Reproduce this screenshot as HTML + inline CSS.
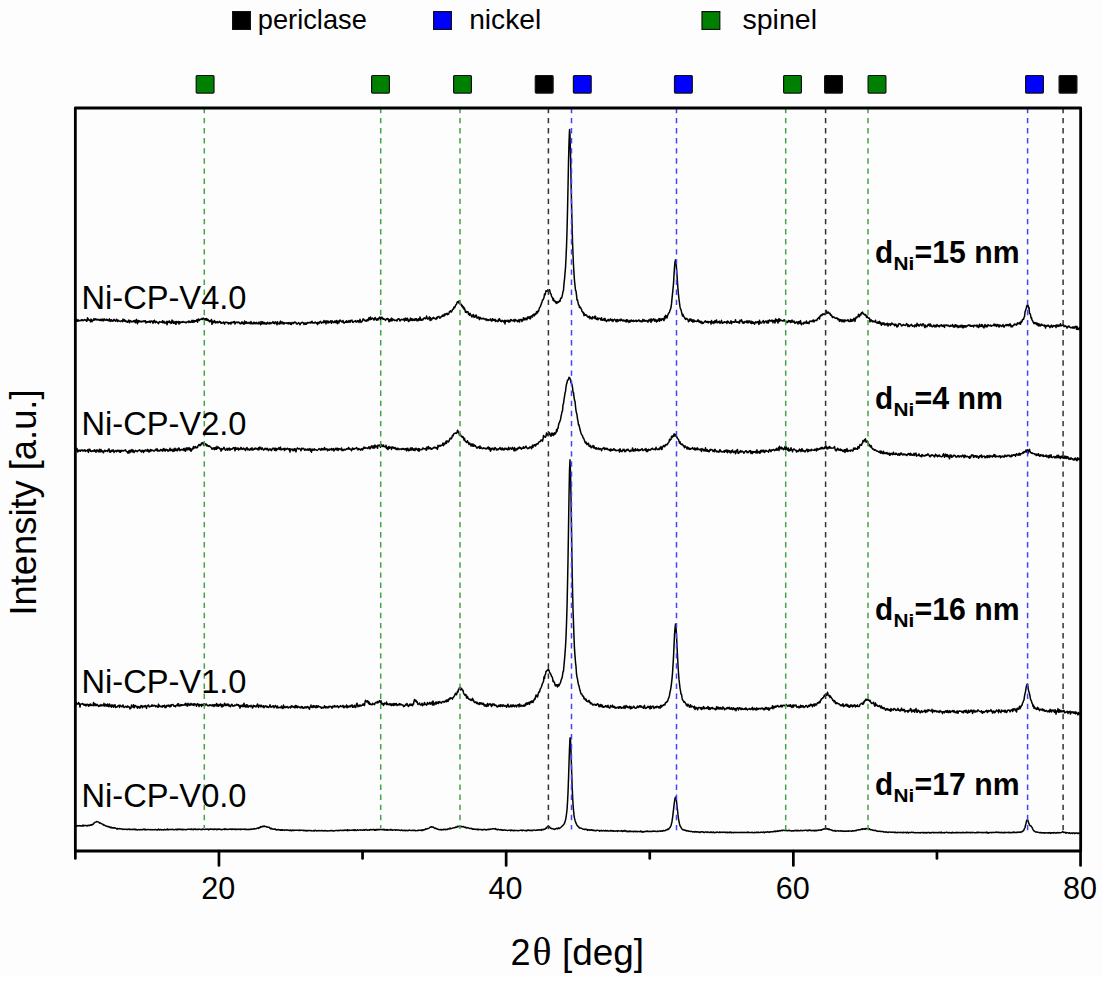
<!DOCTYPE html>
<html><head><meta charset="utf-8"><title>XRD patterns</title>
<style>html,body{margin:0;padding:0;background:#fff;width:1103px;height:981px;overflow:hidden}svg{display:block}</style>
</head><body>
<svg width="1103" height="981" viewBox="0 0 1103 981">
<rect width="1103" height="981" fill="#fff"/><rect width="1103" height="976" fill="#fdfdfd"/>
<polyline points="75.50,320.78 76.00,321.17 76.50,320.74 77.00,319.34 77.50,321.20 78.00,320.80 78.50,319.95 79.00,320.88 79.50,320.68 80.00,320.61 80.50,320.37 81.00,320.80 81.50,319.69 82.00,320.17 82.50,319.88 83.00,320.79 83.50,320.30 84.00,320.00 84.50,319.57 85.00,320.00 85.50,320.21 86.00,319.96 86.50,321.28 87.00,321.02 87.50,317.85 88.00,318.53 88.50,319.97 89.00,319.75 89.50,320.28 90.00,320.27 90.50,321.87 91.00,319.11 91.50,319.72 92.00,321.76 92.50,320.56 93.00,320.56 93.50,319.55 94.00,318.57 94.50,320.10 95.00,320.03 95.50,318.88 96.00,319.33 96.50,319.84 97.00,319.08 97.50,319.79 98.00,319.94 98.50,319.87 99.00,319.40 99.50,320.32 100.00,320.56 100.50,320.10 101.00,319.15 101.50,320.50 102.00,319.47 102.50,320.67 103.00,319.04 103.50,320.75 104.00,319.98 104.50,318.96 105.00,319.78 105.50,320.12 106.00,320.33 106.50,319.29 107.00,319.21 107.50,320.35 108.00,319.80 108.50,320.43 109.00,320.90 109.50,318.88 110.00,320.52 110.50,321.37 111.00,320.10 111.50,319.69 112.00,321.04 112.50,320.64 113.00,321.21 113.50,320.18 114.00,319.24 114.50,320.43 115.00,320.17 115.50,321.24 116.00,320.77 116.50,319.24 117.00,319.64 117.50,321.43 118.00,321.28 118.50,320.18 119.00,320.75 119.50,321.16 120.00,321.20 120.50,321.57 121.00,321.07 121.50,320.80 122.00,320.68 122.50,321.82 123.00,319.04 123.50,320.86 124.00,321.03 124.50,319.81 125.00,321.33 125.50,320.52 126.00,321.83 126.50,321.02 127.00,321.72 127.50,322.21 128.00,321.53 128.50,320.48 129.00,319.96 129.50,322.77 130.00,321.21 130.50,320.73 131.00,321.45 131.50,321.18 132.00,322.08 132.50,321.40 133.00,321.40 133.50,320.79 134.00,321.81 134.50,320.55 135.00,322.01 135.50,322.75 136.00,320.17 136.50,319.38 137.00,322.02 137.50,323.67 138.00,320.67 138.50,320.47 139.00,322.05 139.50,320.85 140.00,321.15 140.50,321.29 141.00,322.06 141.50,321.27 142.00,321.87 142.50,321.50 143.00,320.94 143.50,321.40 144.00,320.88 144.50,321.71 145.00,320.76 145.50,320.80 146.00,322.98 146.50,321.71 147.00,321.72 147.50,322.22 148.00,321.44 148.50,321.61 149.00,322.18 149.50,322.08 150.00,320.86 150.50,322.57 151.00,321.37 151.50,320.99 152.00,321.14 152.50,321.58 153.00,323.31 153.50,320.94 154.00,322.09 154.50,320.15 155.00,321.98 155.50,322.76 156.00,321.81 156.50,321.48 157.00,322.23 157.50,322.64 158.00,322.62 158.50,323.75 159.00,322.26 159.50,321.59 160.00,322.00 160.50,322.06 161.00,322.23 161.50,322.12 162.00,322.31 162.50,320.75 163.00,322.89 163.50,321.71 164.00,321.21 164.50,322.76 165.00,323.35 165.50,322.66 166.00,322.39 166.50,321.47 167.00,324.72 167.50,323.04 168.00,321.33 168.50,321.65 169.00,322.39 169.50,321.01 170.00,322.49 170.50,321.96 171.00,323.40 171.50,323.19 172.00,320.08 172.50,322.43 173.00,321.03 173.50,323.35 174.00,322.56 174.50,322.89 175.00,321.53 175.50,324.00 176.00,324.17 176.50,321.56 177.00,322.78 177.50,321.90 178.00,322.46 178.50,321.41 179.00,324.08 179.50,321.67 180.00,322.25 180.50,322.92 181.00,321.93 181.50,322.27 182.00,321.98 182.50,322.34 183.00,321.44 183.50,322.05 184.00,322.23 184.50,322.11 185.00,322.43 185.50,322.11 186.00,322.98 186.50,322.04 187.00,322.18 187.50,321.70 188.00,321.79 188.50,321.13 189.00,322.62 189.50,321.17 190.00,321.46 190.50,322.36 191.00,322.35 191.50,321.61 192.00,320.18 192.50,322.19 193.00,321.98 193.50,320.48 194.00,322.24 194.50,320.90 195.00,320.43 195.50,321.35 196.00,320.98 196.50,321.16 197.00,319.47 197.50,322.20 198.00,319.97 198.50,318.97 199.00,320.60 199.50,319.56 200.00,319.92 200.50,319.15 201.00,319.20 201.50,319.30 202.00,318.33 202.50,319.46 203.00,318.46 203.50,318.15 204.00,319.04 204.50,319.48 205.00,319.08 205.50,318.73 206.00,320.20 206.50,318.40 207.00,319.23 207.50,320.35 208.00,319.37 208.50,320.74 209.00,320.84 209.50,321.81 210.00,320.42 210.50,320.80 211.00,321.74 211.50,319.48 212.00,324.31 212.50,321.17 213.00,321.23 213.50,322.66 214.00,321.96 214.50,320.54 215.00,322.65 215.50,322.90 216.00,321.83 216.50,322.02 217.00,322.72 217.50,321.57 218.00,322.75 218.50,322.58 219.00,321.87 219.50,321.28 220.00,322.30 220.50,321.77 221.00,323.39 221.50,322.69 222.00,323.25 222.50,322.72 223.00,322.84 223.50,321.97 224.00,323.22 224.50,324.18 225.00,322.42 225.50,322.19 226.00,322.57 226.50,322.31 227.00,322.14 227.50,322.86 228.00,322.51 228.50,323.99 229.00,322.77 229.50,323.06 230.00,323.60 230.50,322.55 231.00,324.03 231.50,322.28 232.00,322.14 232.50,322.52 233.00,322.74 233.50,321.66 234.00,322.82 234.50,321.44 235.00,324.05 235.50,322.80 236.00,322.33 236.50,322.11 237.00,322.56 237.50,322.71 238.00,322.01 238.50,322.12 239.00,322.75 239.50,322.47 240.00,323.72 240.50,323.89 241.00,322.94 241.50,323.34 242.00,321.80 242.50,323.49 243.00,322.92 243.50,323.36 244.00,324.32 244.50,321.02 245.00,323.19 245.50,322.03 246.00,323.47 246.50,321.86 247.00,322.56 247.50,323.15 248.00,323.51 248.50,323.05 249.00,322.32 249.50,322.53 250.00,323.75 250.50,323.00 251.00,321.57 251.50,323.72 252.00,323.36 252.50,323.75 253.00,322.72 253.50,323.71 254.00,322.11 254.50,323.49 255.00,322.59 255.50,323.58 256.00,323.87 256.50,322.39 257.00,322.97 257.50,323.05 258.00,324.03 258.50,323.62 259.00,321.98 259.50,323.40 260.00,323.65 260.50,324.82 261.00,321.59 261.50,322.56 262.00,324.15 262.50,321.87 263.00,322.00 263.50,323.46 264.00,323.89 264.50,322.45 265.00,323.48 265.50,323.12 266.00,324.31 266.50,323.02 267.00,323.86 267.50,322.25 268.00,322.86 268.50,322.94 269.00,323.99 269.50,323.52 270.00,322.38 270.50,323.60 271.00,323.68 271.50,322.93 272.00,322.80 272.50,322.86 273.00,321.58 273.50,323.18 274.00,323.22 274.50,322.29 275.00,323.65 275.50,321.86 276.00,322.55 276.50,322.62 277.00,324.71 277.50,321.66 278.00,323.50 278.50,323.82 279.00,323.34 279.50,324.03 280.00,322.17 280.50,321.08 281.00,323.67 281.50,322.00 282.00,322.74 282.50,322.02 283.00,323.91 283.50,323.76 284.00,322.41 284.50,323.79 285.00,323.12 285.50,322.90 286.00,323.07 286.50,322.85 287.00,323.54 287.50,323.28 288.00,322.72 288.50,323.87 289.00,322.50 289.50,323.26 290.00,323.37 290.50,324.27 291.00,322.58 291.50,324.49 292.00,323.16 292.50,322.85 293.00,322.44 293.50,323.51 294.00,323.05 294.50,322.07 295.00,322.05 295.50,322.54 296.00,322.43 296.50,323.93 297.00,324.17 297.50,323.74 298.00,323.31 298.50,322.64 299.00,323.05 299.50,323.75 300.00,324.81 300.50,323.76 301.00,322.73 301.50,322.98 302.00,322.53 302.50,322.26 303.00,322.75 303.50,323.06 304.00,324.43 304.50,322.90 305.00,323.99 305.50,324.33 306.00,322.88 306.50,324.16 307.00,323.38 307.50,322.41 308.00,322.97 308.50,322.75 309.00,322.51 309.50,322.53 310.00,322.80 310.50,323.03 311.00,321.89 311.50,322.62 312.00,321.32 312.50,322.82 313.00,323.11 313.50,322.70 314.00,322.79 314.50,323.03 315.00,321.95 315.50,322.29 316.00,322.91 316.50,323.32 317.00,322.78 317.50,324.60 318.00,322.34 318.50,323.25 319.00,323.46 319.50,322.25 320.00,321.65 320.50,321.32 321.00,322.45 321.50,323.24 322.00,322.51 322.50,322.41 323.00,321.92 323.50,322.70 324.00,320.39 324.50,322.39 325.00,322.19 325.50,320.99 326.00,323.98 326.50,320.94 327.00,321.18 327.50,321.06 328.00,323.01 328.50,321.29 329.00,322.60 329.50,322.51 330.00,322.21 330.50,320.86 331.00,321.43 331.50,323.36 332.00,320.82 332.50,321.19 333.00,321.74 333.50,322.55 334.00,322.05 334.50,322.45 335.00,320.89 335.50,322.59 336.00,322.26 336.50,320.42 337.00,323.07 337.50,323.70 338.00,321.09 338.50,321.78 339.00,322.91 339.50,320.45 340.00,320.01 340.50,320.59 341.00,321.19 341.50,321.17 342.00,322.17 342.50,321.87 343.00,320.57 343.50,322.10 344.00,323.20 344.50,322.61 345.00,322.42 345.50,321.58 346.00,322.39 346.50,320.71 347.00,322.16 347.50,321.43 348.00,322.45 348.50,321.87 349.00,320.53 349.50,321.55 350.00,322.46 350.50,320.45 351.00,320.92 351.50,320.72 352.00,320.08 352.50,322.15 353.00,322.43 353.50,321.97 354.00,321.48 354.50,321.20 355.00,321.43 355.50,320.58 356.00,321.93 356.50,322.04 357.00,321.91 357.50,320.64 358.00,321.13 358.50,320.89 359.00,322.52 359.50,321.12 360.00,319.34 360.50,321.24 361.00,322.46 361.50,321.40 362.00,321.53 362.50,320.77 363.00,319.02 363.50,319.11 364.00,319.54 364.50,320.44 365.00,320.76 365.50,321.02 366.00,320.09 366.50,321.13 367.00,320.01 367.50,319.58 368.00,320.83 368.50,319.26 369.00,317.64 369.50,318.98 370.00,319.87 370.50,317.09 371.00,319.31 371.50,319.24 372.00,318.22 372.50,318.08 373.00,318.85 373.50,318.68 374.00,320.12 374.50,319.27 375.00,317.52 375.50,318.04 376.00,319.29 376.50,320.22 377.00,318.87 377.50,318.75 378.00,320.01 378.50,318.37 379.00,318.10 379.50,317.15 380.00,317.91 380.50,320.21 381.00,317.17 381.50,318.42 382.00,317.25 382.50,318.61 383.00,319.31 383.50,318.42 384.00,319.31 384.50,319.38 385.00,319.22 385.50,320.38 386.00,319.66 386.50,318.82 387.00,318.57 387.50,318.51 388.00,319.71 388.50,319.10 389.00,321.76 389.50,321.07 390.00,319.38 390.50,319.34 391.00,321.11 391.50,318.13 392.00,319.39 392.50,320.63 393.00,319.09 393.50,319.50 394.00,319.64 394.50,320.54 395.00,320.12 395.50,320.38 396.00,320.57 396.50,320.11 397.00,321.05 397.50,319.51 398.00,318.93 398.50,318.65 399.00,318.80 399.50,319.72 400.00,321.08 400.50,320.35 401.00,319.69 401.50,319.29 402.00,319.74 402.50,319.84 403.00,319.70 403.50,318.95 404.00,319.76 404.50,321.01 405.00,318.29 405.50,319.92 406.00,318.31 406.50,320.25 407.00,319.45 407.50,318.29 408.00,320.13 408.50,321.57 409.00,320.10 409.50,320.98 410.00,319.91 410.50,318.11 411.00,320.34 411.50,319.54 412.00,318.63 412.50,320.51 413.00,320.06 413.50,319.35 414.00,320.50 414.50,318.99 415.00,320.25 415.50,318.87 416.00,320.09 416.50,318.67 417.00,320.84 417.50,319.75 418.00,320.72 418.50,318.79 419.00,319.07 419.50,320.17 420.00,317.11 420.50,318.51 421.00,320.28 421.50,319.78 422.00,320.19 422.50,319.07 423.00,319.79 423.50,318.66 424.00,318.09 424.50,317.79 425.00,318.73 425.50,318.70 426.00,318.60 426.50,316.08 427.00,317.36 427.50,318.56 428.00,319.22 428.50,318.44 429.00,318.14 429.50,316.87 430.00,320.50 430.50,317.79 431.00,320.10 431.50,319.93 432.00,318.78 432.50,317.99 433.00,318.52 433.50,317.35 434.00,318.48 434.50,318.18 435.00,318.54 435.50,318.81 436.00,319.38 436.50,317.48 437.00,318.59 437.50,316.92 438.00,316.72 438.50,316.84 439.00,316.40 439.50,317.94 440.00,317.75 440.50,317.90 441.00,316.64 441.50,316.74 442.00,315.84 442.50,315.18 443.00,316.35 443.50,316.00 444.00,314.63 444.50,315.85 445.00,313.65 445.50,314.74 446.00,314.10 446.50,313.93 447.00,313.19 447.50,314.63 448.00,314.00 448.50,314.21 449.00,312.99 449.50,311.43 450.00,311.85 450.50,310.77 451.00,311.76 451.50,311.97 452.00,310.76 452.50,309.48 453.00,309.15 453.50,309.06 454.00,307.03 454.50,307.70 455.00,306.98 455.50,305.52 456.00,304.73 456.50,304.30 457.00,302.53 457.50,301.72 458.00,302.49 458.50,301.75 458.60,302.98 459.00,300.85 459.50,300.66 460.00,303.73 460.50,304.64 461.00,304.15 461.50,304.46 462.00,306.54 462.50,305.90 463.00,307.83 463.50,306.93 464.00,309.19 464.50,308.15 465.00,310.27 465.50,312.24 466.00,311.18 466.50,312.49 467.00,311.70 467.50,311.87 468.00,311.72 468.50,314.23 469.00,313.63 469.50,315.38 470.00,313.30 470.50,314.41 471.00,314.94 471.50,316.34 472.00,316.95 472.50,315.09 473.00,314.91 473.50,314.62 474.00,317.45 474.50,316.44 475.00,316.16 475.50,316.85 476.00,314.90 476.50,315.78 477.00,318.20 477.50,317.90 478.00,317.84 478.50,317.01 479.00,318.49 479.50,319.64 480.00,317.21 480.50,318.38 481.00,318.11 481.50,318.90 482.00,318.71 482.50,318.67 483.00,318.14 483.50,318.97 484.00,318.55 484.50,319.03 485.00,319.18 485.50,319.87 486.00,318.89 486.50,319.18 487.00,320.44 487.50,319.41 488.00,319.43 488.50,320.45 489.00,320.00 489.50,319.91 490.00,320.07 490.50,318.88 491.00,320.37 491.50,321.16 492.00,320.57 492.50,318.79 493.00,320.40 493.50,319.43 494.00,320.04 494.50,320.38 495.00,319.29 495.50,321.48 496.00,320.31 496.50,321.07 497.00,320.97 497.50,321.60 498.00,321.49 498.50,319.25 499.00,320.56 499.50,318.73 500.00,320.19 500.50,321.19 501.00,321.38 501.50,321.71 502.00,320.31 502.50,320.91 503.00,320.73 503.50,321.74 504.00,322.02 504.50,320.37 505.00,323.89 505.50,320.68 506.00,320.37 506.50,321.19 507.00,321.33 507.50,321.15 508.00,320.13 508.50,321.93 509.00,320.72 509.50,321.97 510.00,321.84 510.50,319.56 511.00,319.80 511.50,319.77 512.00,320.82 512.50,320.64 513.00,320.80 513.50,319.86 514.00,320.89 514.50,321.70 515.00,319.34 515.50,320.28 516.00,320.63 516.50,320.27 517.00,320.18 517.50,321.81 518.00,321.36 518.50,320.95 519.00,319.53 519.50,322.03 520.00,320.38 520.50,319.52 521.00,319.67 521.50,319.47 522.00,321.62 522.50,319.92 523.00,319.72 523.50,317.75 524.00,320.12 524.50,318.48 525.00,318.29 525.50,319.65 526.00,318.26 526.50,319.56 527.00,319.65 527.50,317.02 528.00,318.26 528.50,316.85 529.00,317.95 529.50,318.57 530.00,316.42 530.50,318.88 531.00,316.83 531.50,315.83 532.00,316.44 532.50,316.91 533.00,314.74 533.50,315.56 534.00,314.01 534.50,315.79 535.00,314.46 535.50,313.49 536.00,314.21 536.50,311.68 537.00,311.83 537.50,313.08 538.00,310.69 538.50,311.18 539.00,309.36 539.50,307.69 540.00,307.10 540.50,306.32 541.00,304.77 541.50,303.22 542.00,301.97 542.50,300.03 543.00,299.99 543.50,298.80 544.00,297.66 544.50,294.07 545.00,294.95 545.50,293.01 546.00,290.74 546.50,291.17 547.00,291.15 547.50,290.56 547.60,290.09 548.00,290.85 548.50,291.02 549.00,290.70 549.50,289.66 550.00,291.64 550.50,293.58 551.00,293.94 551.50,296.02 552.00,297.20 552.50,297.60 553.00,300.14 553.50,298.62 554.00,301.04 554.50,300.55 555.00,300.89 555.50,302.54 556.00,301.89 556.50,303.40 557.00,301.81 557.50,302.85 558.00,301.99 558.50,302.27 559.00,301.77 559.50,300.58 560.00,301.39 560.50,298.88 561.00,297.98 561.50,298.21 562.00,296.61 562.50,294.32 563.00,291.58 563.50,290.21 564.00,283.55 564.50,279.36 565.00,273.41 565.50,267.76 566.00,257.99 566.50,246.80 567.00,231.42 567.50,211.15 568.00,187.43 568.50,162.05 569.00,142.75 569.50,130.63 569.60,129.50 570.00,134.58 570.50,153.49 571.00,178.35 571.50,202.99 572.00,222.36 572.50,241.37 573.00,254.46 573.50,265.49 574.00,273.65 574.50,280.75 575.00,285.28 575.50,290.28 576.00,290.98 576.50,295.20 577.00,300.12 577.50,299.77 578.00,302.42 578.50,304.87 579.00,304.93 579.50,307.53 580.00,306.80 580.50,307.37 581.00,308.74 581.50,309.25 582.00,311.34 582.50,311.73 583.00,312.86 583.50,312.23 584.00,315.76 584.50,313.96 585.00,314.41 585.50,315.21 586.00,314.96 586.50,314.94 587.00,315.85 587.50,316.83 588.00,316.87 588.50,317.34 589.00,316.28 589.50,316.30 590.00,318.86 590.50,317.13 591.00,317.91 591.50,318.29 592.00,319.01 592.50,316.80 593.00,317.67 593.50,317.83 594.00,318.06 594.50,316.37 595.00,318.45 595.50,316.16 596.00,318.97 596.50,319.26 597.00,319.39 597.50,317.94 598.00,319.85 598.50,318.37 599.00,318.13 599.50,318.40 600.00,318.58 600.50,319.50 601.00,320.11 601.50,317.67 602.00,319.05 602.50,320.32 603.00,319.77 603.50,320.07 604.00,318.41 604.50,320.53 605.00,318.43 605.50,319.96 606.00,320.98 606.50,321.46 607.00,320.32 607.50,320.66 608.00,319.43 608.50,319.56 609.00,320.99 609.50,320.02 610.00,319.93 610.50,318.86 611.00,320.20 611.50,320.64 612.00,319.44 612.50,319.70 613.00,321.49 613.50,320.31 614.00,319.93 614.50,319.22 615.00,319.67 615.50,320.01 616.00,321.41 616.50,319.75 617.00,321.82 617.50,319.52 618.00,320.03 618.50,321.07 619.00,320.17 619.50,319.68 620.00,320.30 620.50,320.81 621.00,318.98 621.50,320.25 622.00,320.38 622.50,320.15 623.00,321.13 623.50,320.04 624.00,320.23 624.50,320.58 625.00,321.18 625.50,320.39 626.00,321.88 626.50,319.83 627.00,321.70 627.50,319.89 628.00,320.49 628.50,320.95 629.00,322.40 629.50,321.42 630.00,320.33 630.50,321.79 631.00,320.51 631.50,320.03 632.00,321.09 632.50,320.79 633.00,321.53 633.50,320.26 634.00,321.06 634.50,321.28 635.00,320.98 635.50,320.72 636.00,320.16 636.50,321.53 637.00,320.88 637.50,321.19 638.00,320.47 638.50,320.78 639.00,319.89 639.50,320.84 640.00,321.42 640.50,320.85 641.00,321.50 641.50,321.04 642.00,321.93 642.50,320.61 643.00,319.37 643.50,321.13 644.00,320.62 644.50,319.93 645.00,321.30 645.50,320.97 646.00,321.11 646.50,320.44 647.00,320.88 647.50,320.92 648.00,322.20 648.50,320.10 649.00,320.66 649.50,320.96 650.00,319.17 650.50,319.26 651.00,322.44 651.50,319.08 652.00,321.05 652.50,319.83 653.00,319.88 653.50,318.81 654.00,319.71 654.50,321.11 655.00,319.23 655.50,320.88 656.00,320.60 656.50,322.00 657.00,319.83 657.50,321.26 658.00,320.88 658.50,319.81 659.00,318.57 659.50,321.18 660.00,318.65 660.50,319.31 661.00,320.35 661.50,320.42 662.00,318.62 662.50,319.15 663.00,318.79 663.50,319.81 664.00,320.71 664.50,316.77 665.00,318.82 665.50,315.28 666.00,317.33 666.50,315.93 667.00,318.05 667.50,315.89 668.00,314.41 668.50,313.75 669.00,312.67 669.50,312.08 670.00,310.27 670.50,309.10 671.00,307.54 671.50,303.94 672.00,298.68 672.50,293.81 673.00,288.93 673.50,283.74 674.00,275.01 674.50,267.24 675.00,262.16 675.50,259.84 676.00,261.09 676.50,268.28 677.00,275.10 677.50,282.54 678.00,289.94 678.50,294.81 679.00,299.28 679.50,303.11 680.00,306.92 680.50,308.79 681.00,309.61 681.50,311.90 682.00,313.97 682.50,316.05 683.00,314.36 683.50,316.36 684.00,316.48 684.50,317.94 685.00,318.09 685.50,319.36 686.00,318.90 686.50,318.31 687.00,318.59 687.50,319.64 688.00,319.84 688.50,321.74 689.00,321.31 689.50,319.04 690.00,320.48 690.50,319.19 691.00,319.03 691.50,321.18 692.00,321.12 692.50,319.86 693.00,322.23 693.50,320.08 694.00,319.99 694.50,321.61 695.00,321.31 695.50,321.05 696.00,321.18 696.50,321.49 697.00,321.23 697.50,321.25 698.00,319.83 698.50,320.34 699.00,322.04 699.50,320.96 700.00,322.06 700.50,322.68 701.00,321.35 701.50,321.91 702.00,323.46 702.50,322.30 703.00,323.30 703.50,323.05 704.00,322.41 704.50,321.69 705.00,321.08 705.50,320.87 706.00,322.24 706.50,322.23 707.00,321.70 707.50,322.58 708.00,321.35 708.50,322.82 709.00,321.92 709.50,321.86 710.00,321.90 710.50,321.83 711.00,324.03 711.50,320.56 712.00,322.08 712.50,322.99 713.00,322.55 713.50,321.69 714.00,323.43 714.50,321.05 715.00,320.85 715.50,322.45 716.00,320.73 716.50,319.95 717.00,322.73 717.50,322.63 718.00,322.60 718.50,321.57 719.00,322.14 719.50,321.17 720.00,323.46 720.50,322.66 721.00,322.62 721.50,320.33 722.00,322.68 722.50,323.26 723.00,323.03 723.50,322.66 724.00,321.99 724.50,321.70 725.00,322.50 725.50,322.32 726.00,322.19 726.50,321.73 727.00,323.42 727.50,320.99 728.00,321.96 728.50,321.49 729.00,322.86 729.50,323.19 730.00,323.03 730.50,322.61 731.00,320.78 731.50,323.74 732.00,322.40 732.50,321.87 733.00,321.98 733.50,321.66 734.00,322.31 734.50,322.21 735.00,321.63 735.50,319.75 736.00,321.90 736.50,322.33 737.00,322.37 737.50,321.79 738.00,322.30 738.50,322.78 739.00,321.50 739.50,323.14 740.00,320.22 740.50,320.81 741.00,321.10 741.50,319.78 742.00,321.00 742.50,322.91 743.00,322.89 743.50,321.91 744.00,323.28 744.50,322.01 745.00,321.38 745.50,322.03 746.00,321.74 746.50,322.51 747.00,320.64 747.50,322.79 748.00,321.58 748.50,322.72 749.00,320.71 749.50,321.69 750.00,322.14 750.50,322.87 751.00,321.09 751.50,323.56 752.00,322.58 752.50,321.74 753.00,323.25 753.50,322.32 754.00,323.24 754.50,324.24 755.00,322.94 755.50,321.86 756.00,321.96 756.50,322.83 757.00,322.59 757.50,321.65 758.00,321.80 758.50,322.95 759.00,324.38 759.50,320.16 760.00,323.02 760.50,322.20 761.00,323.02 761.50,323.07 762.00,322.35 762.50,321.42 763.00,321.06 763.50,320.63 764.00,323.23 764.50,321.97 765.00,321.65 765.50,321.83 766.00,320.88 766.50,322.23 767.00,323.05 767.50,322.84 768.00,320.48 768.50,322.91 769.00,321.04 769.50,320.00 770.00,320.51 770.50,320.66 771.00,321.40 771.50,320.46 772.00,319.97 772.50,320.95 773.00,322.73 773.50,320.41 774.00,321.32 774.50,320.91 775.00,323.02 775.50,319.07 776.00,321.54 776.50,319.45 777.00,319.98 777.50,320.34 778.00,323.09 778.50,319.69 779.00,318.71 779.50,321.40 780.00,319.58 780.30,320.09 780.50,320.29 781.00,320.41 781.50,320.21 782.00,320.63 782.50,320.78 783.00,321.24 783.50,320.23 784.00,320.03 784.50,319.85 785.00,321.35 785.50,320.90 786.00,321.51 786.50,321.60 787.00,322.67 787.50,321.52 788.00,322.08 788.50,320.52 789.00,320.72 789.50,321.46 790.00,320.79 790.50,322.49 791.00,320.86 791.50,322.13 792.00,320.06 792.50,321.29 793.00,322.01 793.50,322.15 794.00,320.91 794.50,322.58 795.00,323.37 795.50,323.15 796.00,322.09 796.50,322.20 797.00,321.73 797.50,323.31 798.00,324.04 798.50,322.40 799.00,321.43 799.50,323.07 800.00,323.53 800.50,320.63 801.00,323.08 801.50,324.82 802.00,323.69 802.50,323.46 803.00,323.34 803.50,323.87 804.00,322.13 804.50,322.17 805.00,323.19 805.50,322.21 806.00,322.96 806.50,321.06 807.00,323.27 807.50,323.28 808.00,322.52 808.50,322.55 809.00,323.70 809.50,321.32 810.00,321.37 810.50,321.11 811.00,321.57 811.50,320.95 812.00,321.71 812.50,320.99 813.00,320.16 813.50,319.91 814.00,322.08 814.50,320.80 815.00,320.46 815.50,320.45 816.00,320.12 816.50,320.57 817.00,320.12 817.50,318.83 818.00,318.29 818.50,317.71 819.00,317.17 819.50,319.00 820.00,316.58 820.50,315.16 821.00,315.64 821.50,315.15 822.00,315.54 822.50,313.94 823.00,314.57 823.50,313.88 824.00,314.10 824.50,314.38 825.00,314.55 825.50,312.95 826.00,310.59 826.50,311.12 826.60,311.67 827.00,313.24 827.50,312.19 828.00,312.88 828.50,312.05 829.00,313.12 829.50,313.70 830.00,313.21 830.50,314.78 831.00,315.56 831.50,315.04 832.00,316.54 832.50,317.56 833.00,316.67 833.50,317.03 834.00,317.16 834.50,317.25 835.00,318.24 835.50,318.06 836.00,318.42 836.50,318.27 837.00,317.85 837.50,318.56 838.00,319.81 838.50,318.69 839.00,319.29 839.50,321.37 840.00,321.04 840.50,319.60 841.00,320.79 841.50,319.80 842.00,321.80 842.50,319.97 843.00,320.59 843.50,321.73 844.00,319.87 844.50,321.70 845.00,319.91 845.50,320.80 846.00,320.34 846.50,320.50 847.00,320.68 847.50,320.45 848.00,319.63 848.50,321.22 849.00,321.07 849.50,321.52 850.00,321.55 850.50,319.17 851.00,321.34 851.50,321.26 852.00,319.60 852.50,320.81 853.00,321.04 853.50,319.17 854.00,318.27 854.50,318.93 855.00,321.37 855.50,318.93 856.00,317.39 856.50,317.87 857.00,316.87 857.50,316.97 858.00,316.95 858.50,314.23 859.00,316.22 859.50,316.61 860.00,314.75 860.50,314.12 861.00,314.96 861.50,312.61 862.00,312.39 862.50,312.15 862.80,313.19 863.00,313.69 863.50,313.43 864.00,314.26 864.50,314.89 865.00,315.08 865.50,314.51 866.00,315.53 866.50,317.39 867.00,316.00 867.50,317.22 868.00,317.60 868.50,318.29 869.00,317.98 869.50,318.16 870.00,321.86 870.50,320.84 871.00,319.75 871.50,320.60 872.00,321.50 872.50,320.87 873.00,321.92 873.50,321.08 874.00,321.48 874.50,321.89 875.00,321.74 875.50,320.19 876.00,322.44 876.50,322.77 877.00,323.07 877.50,321.94 878.00,323.18 878.50,323.17 879.00,321.58 879.50,321.30 880.00,323.67 880.50,322.53 881.00,324.27 881.50,325.31 882.00,323.07 882.50,323.04 883.00,323.68 883.50,324.33 884.00,322.85 884.50,324.93 885.00,324.77 885.50,324.54 886.00,323.57 886.50,324.86 887.00,324.86 887.50,323.15 888.00,326.00 888.50,324.01 889.00,324.62 889.50,323.91 890.00,324.72 890.50,325.42 891.00,323.79 891.50,323.10 892.00,324.17 892.50,323.48 893.00,323.98 893.50,324.55 894.00,324.64 894.50,325.83 895.00,323.90 895.50,325.10 896.00,324.40 896.50,326.03 897.00,327.05 897.50,325.17 898.00,326.36 898.50,324.50 899.00,323.60 899.50,323.90 900.00,323.65 900.50,324.20 901.00,324.82 901.50,326.01 902.00,325.65 902.50,325.46 903.00,324.72 903.50,324.48 904.00,325.13 904.50,325.23 905.00,325.35 905.50,325.46 906.00,325.05 906.50,323.53 907.00,324.23 907.50,324.49 908.00,326.64 908.50,324.85 909.00,325.79 909.50,326.48 910.00,325.53 910.50,324.92 911.00,325.01 911.50,324.41 912.00,325.55 912.50,326.25 913.00,325.79 913.50,325.97 914.00,325.94 914.50,327.04 915.00,324.81 915.50,325.49 916.00,325.96 916.50,326.43 917.00,323.32 917.50,324.95 918.00,325.22 918.50,324.54 919.00,326.14 919.50,325.62 920.00,325.10 920.50,324.06 921.00,324.33 921.50,324.63 922.00,325.86 922.50,324.45 923.00,323.73 923.50,324.26 924.00,325.00 924.50,326.94 925.00,327.65 925.50,325.12 926.00,326.34 926.50,326.74 927.00,326.65 927.50,325.47 928.00,324.47 928.50,325.17 929.00,324.01 929.50,325.80 930.00,326.27 930.50,324.01 931.00,325.58 931.50,325.88 932.00,326.70 932.50,326.82 933.00,326.33 933.50,325.08 934.00,325.36 934.50,326.70 935.00,325.17 935.50,325.66 936.00,327.03 936.50,325.82 937.00,324.55 937.50,325.47 938.00,326.27 938.50,325.57 939.00,326.73 939.50,326.84 940.00,325.21 940.50,325.34 941.00,325.68 941.50,324.76 942.00,326.11 942.50,325.64 943.00,326.47 943.50,325.30 944.00,325.07 944.50,327.39 945.00,325.08 945.50,325.34 946.00,325.22 946.50,325.59 947.00,325.08 947.50,325.83 948.00,325.27 948.50,325.53 949.00,326.19 949.50,326.49 950.00,326.30 950.50,325.27 951.00,326.23 951.50,325.79 952.00,325.80 952.50,324.43 953.00,326.46 953.50,325.77 954.00,327.34 954.50,326.43 955.00,324.93 955.50,324.71 956.00,326.86 956.50,325.13 957.00,326.45 957.50,325.62 958.00,327.66 958.50,325.93 959.00,327.15 959.50,327.00 960.00,325.47 960.50,325.58 961.00,327.12 961.50,325.86 962.00,325.12 962.50,326.88 963.00,328.04 963.50,325.82 964.00,327.05 964.50,325.72 965.00,327.01 965.50,325.65 966.00,326.99 966.50,326.32 967.00,325.70 967.50,326.06 968.00,325.40 968.50,324.90 969.00,324.96 969.50,325.81 970.00,324.95 970.50,326.23 971.00,326.30 971.50,326.25 972.00,325.43 972.50,325.90 973.00,325.83 973.50,326.97 974.00,325.16 974.50,325.51 975.00,325.64 975.50,325.71 976.00,325.19 976.50,325.29 977.00,326.69 977.50,325.28 978.00,326.60 978.50,327.55 979.00,326.90 979.50,324.27 980.00,326.46 980.50,326.21 981.00,326.26 981.50,324.41 982.00,326.44 982.50,324.86 983.00,326.88 983.50,326.69 984.00,327.94 984.50,325.44 985.00,324.47 985.50,326.65 986.00,326.50 986.50,325.42 987.00,326.90 987.50,326.32 988.00,324.64 988.50,325.43 989.00,325.34 989.50,325.62 990.00,325.87 990.50,325.11 991.00,325.53 991.50,326.19 992.00,325.62 992.50,325.45 993.00,325.41 993.50,325.58 994.00,324.03 994.50,325.79 995.00,324.77 995.50,325.73 996.00,324.38 996.50,326.40 997.00,325.81 997.50,324.45 998.00,325.79 998.50,324.94 999.00,327.10 999.50,325.98 1000.00,324.87 1000.50,325.74 1001.00,325.52 1001.50,326.56 1002.00,325.84 1002.50,325.96 1003.00,324.57 1003.50,326.19 1004.00,327.28 1004.50,326.04 1005.00,325.45 1005.50,325.61 1006.00,324.65 1006.50,325.60 1007.00,324.50 1007.50,325.45 1008.00,325.07 1008.50,324.67 1009.00,325.85 1009.50,324.06 1010.00,325.27 1010.50,324.14 1011.00,326.79 1011.50,326.88 1012.00,325.88 1012.50,326.72 1013.00,325.57 1013.50,325.47 1014.00,324.58 1014.50,324.11 1015.00,324.90 1015.50,324.25 1016.00,324.23 1016.50,325.11 1017.00,324.25 1017.50,322.88 1018.00,323.85 1018.50,323.19 1019.00,323.36 1019.50,322.41 1020.00,324.05 1020.50,324.28 1021.00,321.28 1021.50,322.25 1022.00,321.57 1022.50,319.38 1023.00,319.45 1023.50,319.42 1024.00,317.56 1024.50,316.56 1025.00,312.24 1025.50,310.42 1026.00,309.05 1026.50,307.09 1027.00,305.44 1027.40,305.01 1027.50,304.73 1028.00,305.35 1028.50,307.94 1029.00,307.37 1029.50,313.34 1030.00,313.63 1030.50,314.70 1031.00,317.94 1031.50,317.57 1032.00,320.15 1032.50,320.35 1033.00,321.91 1033.50,322.67 1034.00,323.60 1034.50,322.50 1035.00,323.02 1035.50,323.56 1036.00,322.63 1036.50,324.55 1037.00,324.35 1037.50,323.27 1038.00,325.59 1038.50,325.85 1039.00,323.68 1039.50,325.39 1040.00,326.06 1040.50,325.79 1041.00,324.32 1041.50,324.03 1042.00,325.18 1042.50,324.91 1043.00,325.37 1043.50,325.33 1044.00,325.91 1044.50,325.02 1045.00,325.39 1045.50,328.10 1046.00,325.52 1046.50,326.30 1047.00,325.96 1047.50,325.94 1048.00,325.02 1048.50,326.27 1049.00,325.81 1049.50,326.58 1050.00,327.66 1050.50,326.09 1051.00,326.60 1051.50,325.10 1052.00,326.08 1052.50,327.31 1053.00,325.94 1053.50,325.44 1054.00,326.15 1054.50,325.80 1055.00,325.72 1055.50,325.57 1056.00,327.52 1056.50,325.02 1057.00,325.33 1057.50,325.10 1058.00,326.53 1058.50,325.11 1059.00,326.33 1059.50,325.24 1060.00,324.98 1060.50,323.71 1061.00,325.98 1061.50,325.47 1062.00,325.48 1062.50,325.19 1063.00,325.13 1063.50,324.60 1064.00,326.67 1064.50,326.27 1065.00,325.90 1065.50,325.82 1066.00,326.59 1066.50,326.53 1067.00,328.11 1067.50,327.47 1068.00,326.39 1068.50,326.04 1069.00,326.85 1069.50,326.35 1070.00,327.25 1070.50,327.59 1071.00,327.84 1071.50,327.70 1072.00,327.24 1072.50,327.96 1073.00,326.74 1073.50,327.47 1074.00,328.27 1074.50,327.87 1075.00,326.58 1075.50,326.72 1076.00,326.37 1076.50,329.31 1077.00,326.50 1077.50,327.74 1078.00,329.45 1078.50,328.84 1079.00,329.08 1079.50,327.57 1080.00,328.66 1080.50,330.62" fill="none" stroke="#000" stroke-width="1.5" stroke-linejoin="round"/>
<polyline points="75.50,450.57 76.00,449.97 76.50,450.07 77.00,448.35 77.50,451.97 78.00,451.42 78.50,450.18 79.00,451.12 79.50,450.71 80.00,450.00 80.50,451.31 81.00,450.22 81.50,450.22 82.00,449.83 82.50,450.90 83.00,450.43 83.50,450.99 84.00,450.02 84.50,450.65 85.00,449.79 85.50,451.27 86.00,450.72 86.50,450.85 87.00,450.93 87.50,449.73 88.00,451.26 88.50,452.35 89.00,449.21 89.50,449.14 90.00,449.34 90.50,451.34 91.00,450.75 91.50,451.56 92.00,451.26 92.50,450.84 93.00,450.91 93.50,450.53 94.00,451.42 94.50,449.73 95.00,450.34 95.50,450.91 96.00,452.24 96.50,450.07 97.00,449.81 97.50,450.25 98.00,451.56 98.50,450.55 99.00,451.88 99.50,449.17 100.00,451.73 100.50,451.65 101.00,449.58 101.50,450.92 102.00,451.83 102.50,450.88 103.00,451.66 103.50,452.84 104.00,451.06 104.50,450.60 105.00,450.19 105.50,451.40 106.00,450.69 106.50,450.71 107.00,450.78 107.50,451.43 108.00,449.98 108.50,449.59 109.00,448.83 109.50,451.93 110.00,450.98 110.50,452.20 111.00,450.92 111.50,450.30 112.00,451.35 112.50,450.88 113.00,449.89 113.50,450.21 114.00,452.47 114.50,451.28 115.00,451.34 115.50,450.76 116.00,450.41 116.50,451.77 117.00,450.93 117.50,450.38 118.00,450.92 118.50,450.27 119.00,451.20 119.50,452.01 120.00,450.35 120.50,452.28 121.00,450.50 121.50,451.21 122.00,450.38 122.50,450.90 123.00,451.14 123.50,450.74 124.00,450.52 124.50,450.55 125.00,450.43 125.50,449.80 126.00,450.92 126.50,451.49 127.00,451.93 127.50,451.71 128.00,453.26 128.50,451.45 129.00,450.80 129.50,452.78 130.00,450.31 130.50,452.01 131.00,450.36 131.50,451.46 132.00,449.47 132.50,451.89 133.00,450.98 133.50,450.28 134.00,452.51 134.50,451.72 135.00,451.10 135.50,450.41 136.00,451.00 136.50,450.88 137.00,451.62 137.50,451.67 138.00,450.41 138.50,450.49 139.00,450.50 139.50,449.79 140.00,450.42 140.50,450.83 141.00,451.48 141.50,452.00 142.00,450.18 142.50,451.32 143.00,450.46 143.50,452.58 144.00,450.76 144.50,451.22 145.00,449.98 145.50,450.07 146.00,450.92 146.50,450.41 147.00,451.02 147.50,449.38 148.00,451.25 148.50,449.91 149.00,452.13 149.50,450.40 150.00,451.57 150.50,449.43 151.00,450.97 151.50,449.83 152.00,450.16 152.50,450.58 153.00,450.28 153.50,450.76 154.00,451.15 154.50,451.06 155.00,450.41 155.50,449.31 156.00,449.77 156.50,450.27 157.00,448.62 157.50,451.05 158.00,450.19 158.50,450.17 159.00,451.17 159.50,450.92 160.00,450.52 160.50,449.47 161.00,450.57 161.50,450.58 162.00,449.52 162.50,451.14 163.00,450.67 163.50,448.55 164.00,450.31 164.50,449.12 165.00,451.14 165.50,450.85 166.00,449.21 166.50,449.38 167.00,450.20 167.50,449.89 168.00,451.37 168.50,450.69 169.00,449.80 169.50,450.52 170.00,448.28 170.50,450.25 171.00,450.71 171.50,449.80 172.00,449.33 172.50,450.40 173.00,451.56 173.50,450.05 174.00,448.91 174.50,451.07 175.00,448.22 175.50,450.23 176.00,449.29 176.50,450.55 177.00,449.02 177.50,450.84 178.00,449.95 178.50,448.20 179.00,447.97 179.50,449.36 180.00,450.70 180.50,449.69 181.00,449.62 181.50,449.34 182.00,450.15 182.50,449.82 183.00,449.71 183.50,448.61 184.00,450.44 184.50,450.56 185.00,448.26 185.50,451.30 186.00,449.92 186.50,448.86 187.00,447.62 187.50,449.76 188.00,449.63 188.50,448.61 189.00,447.54 189.50,449.97 190.00,448.46 190.50,448.49 191.00,451.25 191.50,450.56 192.00,449.48 192.50,448.20 193.00,449.04 193.50,446.44 194.00,448.35 194.50,447.48 195.00,446.88 195.50,446.46 196.00,448.06 196.50,447.48 197.00,447.31 197.50,447.62 198.00,445.90 198.50,445.24 199.00,444.43 199.50,445.28 200.00,445.82 200.50,444.65 201.00,444.95 201.50,443.06 202.00,443.39 202.50,442.96 203.00,442.48 203.50,445.18 204.00,444.49 204.50,443.37 205.00,443.69 205.50,444.66 206.00,443.86 206.50,445.84 207.00,444.73 207.50,445.85 208.00,445.60 208.50,446.34 209.00,445.87 209.50,445.89 210.00,446.60 210.50,447.01 211.00,447.50 211.50,447.94 212.00,449.30 212.50,448.80 213.00,447.99 213.50,448.90 214.00,447.78 214.50,449.66 215.00,448.95 215.50,447.39 216.00,449.23 216.50,449.32 217.00,446.38 217.50,448.06 218.00,448.33 218.50,447.12 219.00,447.88 219.50,448.00 220.00,449.26 220.50,449.10 221.00,451.09 221.50,448.54 222.00,449.87 222.50,448.96 223.00,449.14 223.50,447.93 224.00,447.30 224.50,448.28 225.00,449.58 225.50,450.29 226.00,449.46 226.50,449.37 227.00,448.24 227.50,450.26 228.00,450.10 228.50,448.51 229.00,448.92 229.50,448.11 230.00,450.21 230.50,449.30 231.00,448.88 231.50,449.30 232.00,449.33 232.50,448.60 233.00,447.90 233.50,447.86 234.00,447.47 234.50,449.34 235.00,450.83 235.50,447.50 236.00,449.05 236.50,449.28 237.00,448.09 237.50,449.10 238.00,447.99 238.50,449.94 239.00,448.41 239.50,449.00 240.00,449.49 240.50,448.54 241.00,447.37 241.50,448.44 242.00,449.54 242.50,448.81 243.00,449.07 243.50,447.95 244.00,448.99 244.50,449.48 245.00,448.89 245.50,450.47 246.00,448.67 246.50,447.96 247.00,447.46 247.50,449.81 248.00,448.77 248.50,449.68 249.00,449.20 249.50,450.19 250.00,449.88 250.50,448.49 251.00,449.05 251.50,449.75 252.00,447.79 252.50,450.08 253.00,449.88 253.50,449.70 254.00,448.70 254.50,449.14 255.00,447.94 255.50,448.95 256.00,448.41 256.50,448.99 257.00,448.51 257.50,449.18 258.00,449.95 258.50,447.84 259.00,449.75 259.50,447.28 260.00,447.14 260.50,448.88 261.00,449.00 261.50,449.38 262.00,447.61 262.50,448.97 263.00,449.14 263.50,450.10 264.00,448.96 264.50,449.50 265.00,448.23 265.50,448.91 266.00,448.70 266.50,449.68 267.00,448.25 267.50,448.39 268.00,449.60 268.50,450.64 269.00,449.45 269.50,449.39 270.00,448.85 270.50,450.08 271.00,449.62 271.50,450.64 272.00,449.46 272.50,448.38 273.00,448.71 273.50,448.36 274.00,448.14 274.50,450.29 275.00,449.91 275.50,448.18 276.00,450.75 276.50,449.46 277.00,448.44 277.50,449.59 278.00,449.21 278.50,448.62 279.00,447.64 279.50,449.33 280.00,449.55 280.50,447.12 281.00,449.79 281.50,449.85 282.00,448.93 282.50,449.44 283.00,449.11 283.50,448.65 284.00,449.06 284.50,450.52 285.00,448.15 285.50,449.59 286.00,449.55 286.50,448.80 287.00,449.04 287.50,448.23 288.00,448.70 288.50,449.45 289.00,449.72 289.50,448.68 290.00,452.05 290.50,448.98 291.00,449.58 291.50,449.28 292.00,449.14 292.50,450.60 293.00,449.09 293.50,450.64 294.00,450.48 294.50,448.63 295.00,450.41 295.50,448.98 296.00,451.87 296.50,449.22 297.00,448.76 297.50,447.94 298.00,448.47 298.50,449.09 299.00,448.74 299.50,448.55 300.00,449.01 300.50,449.42 301.00,450.83 301.50,448.15 302.00,449.13 302.50,448.79 303.00,448.31 303.50,448.52 304.00,448.83 304.50,450.20 305.00,449.43 305.50,449.14 306.00,450.11 306.50,449.83 307.00,449.40 307.50,449.92 308.00,448.88 308.50,450.12 309.00,449.98 309.50,449.24 310.00,448.55 310.50,450.88 311.00,449.66 311.50,452.18 312.00,449.03 312.50,450.30 313.00,449.21 313.50,449.79 314.00,450.28 314.50,448.89 315.00,449.49 315.50,449.71 316.00,449.67 316.50,450.08 317.00,450.44 317.50,450.27 318.00,449.79 318.50,449.27 319.00,448.60 319.50,448.93 320.00,449.11 320.50,450.13 321.00,449.24 321.50,448.49 322.00,450.08 322.50,448.86 323.00,448.89 323.50,449.35 324.00,449.94 324.50,447.48 325.00,448.58 325.50,449.68 326.00,449.22 326.50,448.79 327.00,449.06 327.50,450.70 328.00,449.13 328.50,450.12 329.00,450.18 329.50,449.12 330.00,449.88 330.50,449.12 331.00,448.98 331.50,448.53 332.00,450.23 332.50,449.14 333.00,449.01 333.50,448.52 334.00,451.01 334.50,450.10 335.00,449.35 335.50,448.86 336.00,448.15 336.50,449.69 337.00,449.68 337.50,448.24 338.00,450.41 338.50,450.08 339.00,448.60 339.50,448.94 340.00,449.04 340.50,449.53 341.00,449.26 341.50,447.99 342.00,450.63 342.50,449.63 343.00,450.43 343.50,450.41 344.00,449.16 344.50,449.62 345.00,449.95 345.50,449.96 346.00,449.16 346.50,448.76 347.00,449.31 347.50,448.58 348.00,448.78 348.50,447.52 349.00,449.30 349.50,448.34 350.00,448.73 350.50,449.14 351.00,449.45 351.50,450.77 352.00,449.33 352.50,447.94 353.00,449.24 353.50,448.61 354.00,449.44 354.50,448.50 355.00,448.46 355.50,448.61 356.00,448.49 356.50,447.45 357.00,448.42 357.50,448.95 358.00,449.96 358.50,448.66 359.00,448.57 359.50,449.35 360.00,449.28 360.50,450.15 361.00,449.25 361.50,448.70 362.00,449.81 362.50,449.93 363.00,448.19 363.50,448.68 364.00,447.07 364.50,448.13 365.00,447.63 365.50,448.14 366.00,447.85 366.50,448.06 367.00,448.04 367.50,448.47 368.00,448.17 368.50,447.42 369.00,446.71 369.50,448.77 370.00,448.83 370.50,447.14 371.00,447.90 371.50,446.02 372.00,445.88 372.50,446.87 373.00,448.24 373.50,445.98 374.00,446.05 374.50,448.01 375.00,444.92 375.50,446.97 376.00,446.73 376.50,446.04 377.00,446.29 377.50,448.28 378.00,445.03 378.50,445.66 379.00,445.69 379.50,445.28 380.00,444.72 380.50,447.23 381.00,446.09 381.50,444.45 382.00,445.40 382.50,446.41 383.00,446.49 383.50,445.02 384.00,446.27 384.50,446.67 385.00,446.90 385.50,447.02 386.00,445.25 386.50,448.49 387.00,447.22 387.50,448.69 388.00,449.70 388.50,447.24 389.00,446.44 389.50,448.33 390.00,447.54 390.50,447.41 391.00,447.01 391.50,449.41 392.00,447.68 392.50,446.95 393.00,447.84 393.50,447.31 394.00,448.49 394.50,448.07 395.00,447.59 395.50,449.05 396.00,448.05 396.50,449.26 397.00,449.77 397.50,448.44 398.00,448.24 398.50,449.00 399.00,449.62 399.50,448.90 400.00,449.05 400.50,448.94 401.00,449.26 401.50,449.56 402.00,448.45 402.50,448.67 403.00,449.14 403.50,448.56 404.00,449.26 404.50,449.62 405.00,449.16 405.50,448.68 406.00,448.55 406.50,450.71 407.00,449.98 407.50,448.29 408.00,448.54 408.50,450.86 409.00,450.56 409.50,449.39 410.00,450.27 410.50,448.03 411.00,449.30 411.50,449.93 412.00,447.72 412.50,448.64 413.00,449.97 413.50,450.26 414.00,448.79 414.50,449.54 415.00,450.65 415.50,448.96 416.00,448.15 416.50,449.22 417.00,448.93 417.50,450.37 418.00,449.39 418.50,448.56 419.00,451.27 419.50,448.79 420.00,449.60 420.50,449.75 421.00,449.82 421.50,449.28 422.00,449.60 422.50,449.02 423.00,447.84 423.50,448.83 424.00,448.82 424.50,448.81 425.00,449.04 425.50,448.35 426.00,449.97 426.50,450.14 427.00,446.89 427.50,448.73 428.00,448.07 428.50,446.41 429.00,448.92 429.50,447.99 430.00,448.14 430.50,447.85 431.00,449.26 431.50,449.33 432.00,448.44 432.50,448.72 433.00,447.95 433.50,448.09 434.00,447.25 434.50,447.82 435.00,447.08 435.50,447.90 436.00,448.18 436.50,447.63 437.00,448.25 437.50,449.40 438.00,445.18 438.50,446.84 439.00,446.19 439.50,446.12 440.00,445.18 440.50,446.19 441.00,445.72 441.50,445.19 442.00,445.29 442.50,444.76 443.00,443.01 443.50,445.64 444.00,444.18 444.50,443.31 445.00,444.04 445.50,442.86 446.00,441.20 446.50,443.39 447.00,440.78 447.50,441.56 448.00,441.36 448.50,441.89 449.00,441.21 449.50,439.77 450.00,438.39 450.50,438.06 451.00,438.71 451.50,438.66 452.00,436.95 452.50,435.29 453.00,436.08 453.50,434.28 454.00,433.69 454.50,433.28 455.00,433.58 455.50,432.95 456.00,433.29 456.50,433.38 457.00,432.66 457.50,430.29 458.00,430.99 458.50,432.83 459.00,433.00 459.50,435.33 460.00,433.98 460.50,434.44 461.00,435.97 461.50,436.70 462.00,436.24 462.50,437.49 463.00,436.76 463.50,437.55 464.00,440.01 464.50,438.36 465.00,440.90 465.50,441.23 466.00,441.82 466.50,442.43 467.00,442.58 467.50,440.71 468.00,442.08 468.50,442.80 469.00,444.44 469.50,443.04 470.00,443.71 470.50,444.29 471.00,445.98 471.50,443.89 472.00,444.20 472.50,446.11 473.00,443.98 473.50,446.26 474.00,445.78 474.50,444.99 475.00,446.14 475.50,445.79 476.00,446.93 476.50,447.23 477.00,448.31 477.50,447.15 478.00,447.35 478.50,446.88 479.00,447.45 479.50,448.45 480.00,446.01 480.50,448.29 481.00,447.35 481.50,447.94 482.00,448.22 482.50,448.74 483.00,448.28 483.50,447.80 484.00,448.45 484.50,448.25 485.00,448.11 485.50,448.51 486.00,449.12 486.50,448.54 487.00,448.59 487.50,447.40 488.00,448.42 488.50,446.98 489.00,449.20 489.50,447.82 490.00,449.75 490.50,451.22 491.00,448.36 491.50,449.85 492.00,449.08 492.50,448.29 493.00,448.06 493.50,449.27 494.00,450.00 494.50,449.13 495.00,447.55 495.50,447.97 496.00,448.67 496.50,450.03 497.00,449.12 497.50,449.17 498.00,449.93 498.50,448.73 499.00,448.83 499.50,448.76 500.00,447.41 500.50,449.32 501.00,449.27 501.50,449.75 502.00,447.91 502.50,448.23 503.00,449.71 503.50,449.19 504.00,450.08 504.50,448.17 505.00,449.07 505.50,448.32 506.00,449.15 506.50,448.47 507.00,449.33 507.50,449.78 508.00,449.43 508.50,447.30 509.00,449.63 509.50,449.19 510.00,447.91 510.50,448.04 511.00,448.79 511.50,449.25 512.00,448.37 512.50,447.36 513.00,448.96 513.50,448.85 514.00,450.77 514.50,447.58 515.00,450.80 515.50,450.11 516.00,448.86 516.50,449.99 517.00,448.64 517.50,449.36 518.00,447.87 518.50,448.54 519.00,447.57 519.50,447.06 520.00,448.13 520.50,447.76 521.00,448.77 521.50,449.32 522.00,448.05 522.50,448.19 523.00,448.25 523.50,446.61 524.00,448.20 524.50,447.92 525.00,447.81 525.50,446.84 526.00,446.02 526.50,447.42 527.00,447.81 527.50,448.60 528.00,448.33 528.50,448.50 529.00,447.48 529.50,448.03 530.00,446.76 530.50,447.34 531.00,447.46 531.50,448.81 532.00,446.58 532.50,445.13 533.00,447.21 533.50,445.18 534.00,445.60 534.50,445.19 535.00,444.44 535.50,446.10 536.00,445.21 536.50,443.90 537.00,444.17 537.50,443.42 538.00,443.96 538.50,442.75 539.00,442.02 539.50,441.70 540.00,441.43 540.50,441.57 541.00,440.04 541.50,440.21 542.00,440.11 542.50,441.15 543.00,439.31 543.50,435.46 544.00,436.98 544.50,436.51 545.00,436.57 545.50,437.13 546.00,435.97 546.50,432.99 547.00,434.88 547.50,434.47 547.60,434.69 548.00,435.36 548.50,433.18 549.00,435.02 549.50,432.70 550.00,434.21 550.50,434.57 551.00,436.28 551.50,433.81 552.00,433.01 552.50,435.02 553.00,433.80 553.50,435.55 554.00,433.38 554.50,432.89 555.00,434.24 555.50,432.68 556.00,432.75 556.50,429.84 557.00,431.47 557.50,428.41 558.00,428.30 558.50,425.27 559.00,423.16 559.50,422.45 560.00,420.83 560.50,419.86 561.00,416.50 561.50,414.33 562.00,411.66 562.50,410.99 563.00,404.79 563.50,403.60 564.00,399.41 564.50,396.74 565.00,393.07 565.50,391.62 566.00,386.80 566.50,384.19 567.00,382.86 567.50,380.12 568.00,380.19 568.50,379.33 569.00,377.37 569.30,377.96 569.50,377.46 570.00,378.54 570.50,379.65 571.00,382.80 571.50,383.18 572.00,384.76 572.50,387.39 573.00,392.06 573.50,392.65 574.00,396.79 574.50,400.03 575.00,401.44 575.50,406.25 576.00,410.56 576.50,412.86 577.00,414.74 577.50,418.80 578.00,421.22 578.50,424.92 579.00,424.83 579.50,427.23 580.00,429.55 580.50,431.19 581.00,433.03 581.50,434.37 582.00,435.24 582.50,435.71 583.00,437.72 583.50,438.03 584.00,439.23 584.50,440.48 585.00,442.11 585.50,443.06 586.00,442.04 586.50,443.71 587.00,444.61 587.50,444.32 588.00,443.34 588.50,443.25 589.00,446.08 589.50,446.47 590.00,446.18 590.50,445.29 591.00,447.64 591.50,447.64 592.00,446.76 592.50,446.79 593.00,445.48 593.50,447.93 594.00,446.07 594.50,448.15 595.00,448.32 595.50,447.90 596.00,449.28 596.50,447.77 597.00,448.65 597.50,448.93 598.00,448.56 598.50,448.08 599.00,449.57 599.50,448.97 600.00,448.52 600.50,448.62 601.00,448.95 601.50,450.84 602.00,449.06 602.50,448.83 603.00,448.19 603.50,448.12 604.00,447.60 604.50,449.47 605.00,449.35 605.50,448.50 606.00,448.16 606.50,449.20 607.00,449.07 607.50,448.43 608.00,449.86 608.50,449.77 609.00,449.65 609.50,450.39 610.00,449.21 610.50,450.96 611.00,448.98 611.50,450.31 612.00,450.45 612.50,449.72 613.00,450.27 613.50,448.91 614.00,448.75 614.50,449.89 615.00,449.47 615.50,450.62 616.00,450.17 616.50,450.69 617.00,450.46 617.50,450.39 618.00,450.32 618.50,449.95 619.00,449.89 619.50,452.04 620.00,448.83 620.50,450.19 621.00,451.22 621.50,450.75 622.00,451.61 622.50,450.89 623.00,449.37 623.50,450.18 624.00,449.28 624.50,451.33 625.00,451.74 625.50,450.15 626.00,451.00 626.50,450.20 627.00,449.34 627.50,450.18 628.00,449.20 628.50,450.05 629.00,450.70 629.50,451.12 630.00,451.59 630.50,450.19 631.00,450.66 631.50,450.80 632.00,450.90 632.50,447.99 633.00,449.73 633.50,451.05 634.00,449.41 634.50,450.55 635.00,451.03 635.50,448.69 636.00,450.12 636.50,450.47 637.00,450.26 637.50,448.93 638.00,450.50 638.50,449.71 639.00,450.86 639.50,450.51 640.00,449.65 640.50,450.24 641.00,449.48 641.50,449.45 642.00,448.68 642.50,449.79 643.00,450.65 643.50,450.03 644.00,449.89 644.50,449.34 645.00,449.40 645.50,450.45 646.00,448.51 646.50,451.50 647.00,449.66 647.50,451.53 648.00,450.65 648.50,449.26 649.00,450.20 649.50,449.76 650.00,449.89 650.50,450.13 651.00,448.95 651.50,448.86 652.00,449.00 652.50,448.17 653.00,449.08 653.50,449.46 654.00,449.44 654.50,449.36 655.00,448.82 655.50,449.78 656.00,447.31 656.50,448.67 657.00,448.67 657.50,449.64 658.00,449.38 658.50,449.41 659.00,448.66 659.50,449.36 660.00,447.59 660.50,448.39 661.00,446.39 661.50,449.49 662.00,449.22 662.50,447.17 663.00,446.73 663.50,445.43 664.00,445.63 664.50,446.72 665.00,446.14 665.50,444.63 666.00,445.02 666.50,444.40 667.00,444.84 667.50,444.46 668.00,443.05 668.50,442.66 669.00,441.84 669.50,439.31 670.00,440.45 670.50,439.43 671.00,439.31 671.50,436.32 672.00,437.78 672.50,435.91 673.00,436.10 673.50,436.47 674.00,433.91 674.50,433.95 675.00,436.01 675.50,434.47 676.00,435.06 676.50,436.96 677.00,436.96 677.50,438.54 678.00,438.93 678.50,439.47 679.00,441.14 679.50,442.95 680.00,441.76 680.50,443.82 681.00,444.20 681.50,443.96 682.00,444.83 682.50,444.17 683.00,444.93 683.50,446.12 684.00,446.24 684.50,447.73 685.00,445.83 685.50,446.96 686.00,446.92 686.50,447.55 687.00,448.86 687.50,447.01 688.00,448.91 688.50,447.82 689.00,448.16 689.50,449.39 690.00,448.40 690.50,449.29 691.00,448.90 691.50,448.72 692.00,448.63 692.50,447.52 693.00,448.41 693.50,449.23 694.00,449.31 694.50,447.91 695.00,450.07 695.50,449.74 696.00,448.18 696.50,448.43 697.00,449.78 697.50,447.87 698.00,448.76 698.50,449.40 699.00,449.39 699.50,449.50 700.00,449.93 700.50,448.97 701.00,449.28 701.50,451.48 702.00,448.59 702.50,449.44 703.00,449.96 703.50,449.36 704.00,450.99 704.50,450.05 705.00,450.67 705.50,447.84 706.00,451.12 706.50,451.12 707.00,449.54 707.50,451.33 708.00,450.48 708.50,451.08 709.00,451.87 709.50,450.45 710.00,449.53 710.50,450.42 711.00,449.38 711.50,449.82 712.00,449.88 712.50,449.96 713.00,451.59 713.50,451.34 714.00,449.90 714.50,451.66 715.00,449.30 715.50,450.20 716.00,450.67 716.50,451.83 717.00,451.47 717.50,451.27 718.00,452.02 718.50,451.56 719.00,452.14 719.50,450.34 720.00,449.60 720.50,450.71 721.00,451.80 721.50,451.35 722.00,451.91 722.50,451.79 723.00,451.65 723.50,451.94 724.00,450.66 724.50,452.23 725.00,450.47 725.50,451.26 726.00,450.18 726.50,451.84 727.00,450.11 727.50,452.66 728.00,450.34 728.50,451.73 729.00,451.42 729.50,450.82 730.00,452.66 730.50,451.25 731.00,452.89 731.50,450.80 732.00,451.01 732.50,450.02 733.00,452.22 733.50,452.53 734.00,451.95 734.50,451.62 735.00,450.98 735.50,453.77 736.00,452.41 736.50,450.21 737.00,451.52 737.50,449.57 738.00,453.14 738.50,453.48 739.00,453.05 739.50,451.76 740.00,451.31 740.50,450.62 741.00,452.27 741.50,451.19 742.00,451.50 742.50,451.28 743.00,451.56 743.50,452.59 744.00,453.27 744.50,451.96 745.00,451.85 745.50,450.89 746.00,450.79 746.50,450.93 747.00,452.59 747.50,452.05 748.00,452.66 748.50,452.20 749.00,451.50 749.50,450.78 750.00,451.52 750.50,450.61 751.00,453.54 751.50,452.06 752.00,451.51 752.50,453.52 753.00,451.49 753.50,452.29 754.00,451.67 754.50,452.11 755.00,451.48 755.50,452.21 756.00,453.00 756.50,450.69 757.00,449.86 757.50,452.90 758.00,451.86 758.50,452.45 759.00,451.43 759.50,452.98 760.00,453.19 760.50,450.60 761.00,452.16 761.50,451.03 762.00,450.14 762.50,451.23 763.00,451.94 763.50,450.25 764.00,450.28 764.50,452.40 765.00,451.33 765.50,451.61 766.00,450.23 766.50,450.60 767.00,451.22 767.50,451.22 768.00,451.13 768.50,452.31 769.00,451.02 769.50,449.50 770.00,449.99 770.50,450.61 771.00,451.68 771.50,449.91 772.00,450.08 772.50,450.30 773.00,449.62 773.50,449.42 774.00,449.82 774.50,450.77 775.00,450.22 775.50,449.44 776.00,449.91 776.50,448.34 777.00,450.18 777.50,449.84 778.00,449.34 778.50,447.57 779.00,450.60 779.50,446.24 780.00,447.80 780.50,447.78 781.00,449.10 781.50,447.16 782.00,448.61 782.50,448.25 782.70,448.12 783.00,449.11 783.50,449.61 784.00,448.75 784.50,448.21 785.00,446.55 785.50,449.84 786.00,448.40 786.50,447.15 787.00,448.98 787.50,450.18 788.00,448.92 788.50,448.14 789.00,451.18 789.50,449.87 790.00,449.74 790.50,450.41 791.00,447.76 791.50,449.66 792.00,449.66 792.50,451.83 793.00,449.47 793.50,449.54 794.00,448.89 794.50,449.43 795.00,450.02 795.50,450.47 796.00,450.12 796.50,452.05 797.00,450.79 797.50,450.95 798.00,451.60 798.50,451.00 799.00,450.02 799.50,449.16 800.00,450.82 800.50,449.80 801.00,451.66 801.50,449.87 802.00,448.62 802.50,450.57 803.00,451.46 803.50,450.35 804.00,450.68 804.50,450.65 805.00,452.01 805.50,450.78 806.00,450.48 806.50,449.98 807.00,449.08 807.50,451.70 808.00,451.46 808.50,449.63 809.00,450.96 809.50,450.69 810.00,450.05 810.50,450.08 811.00,450.96 811.50,449.23 812.00,449.78 812.50,450.12 813.00,450.13 813.50,449.90 814.00,450.21 814.50,450.42 815.00,449.12 815.50,449.90 816.00,449.29 816.50,450.97 817.00,448.37 817.50,449.29 818.00,450.00 818.50,449.05 819.00,448.91 819.50,448.62 820.00,449.25 820.50,447.86 821.00,448.67 821.50,448.54 822.00,447.24 822.50,448.62 823.00,447.86 823.50,448.41 824.00,448.77 824.50,448.21 825.00,446.79 825.50,447.99 826.00,446.25 826.50,446.89 827.00,448.93 827.50,447.45 828.00,448.75 828.50,447.24 829.00,447.40 829.50,446.45 830.00,448.26 830.50,447.32 831.00,448.10 831.50,448.01 832.00,448.19 832.50,448.12 833.00,447.91 833.50,448.07 834.00,447.60 834.50,446.49 835.00,448.88 835.50,450.39 836.00,449.66 836.50,450.88 837.00,449.42 837.50,448.30 838.00,448.41 838.50,450.02 839.00,449.79 839.50,449.47 840.00,450.35 840.50,449.06 841.00,450.36 841.50,449.75 842.00,450.21 842.50,451.17 843.00,450.10 843.50,451.46 844.00,451.48 844.50,449.73 845.00,452.43 845.50,449.40 846.00,450.40 846.50,451.15 847.00,448.56 847.50,451.42 848.00,451.51 848.50,450.42 849.00,450.73 849.50,450.65 850.00,450.25 850.50,451.30 851.00,450.00 851.50,450.21 852.00,450.47 852.50,450.79 853.00,450.89 853.50,448.53 854.00,447.90 854.50,449.36 855.00,449.23 855.50,448.12 856.00,449.06 856.50,449.06 857.00,448.53 857.50,449.26 858.00,446.55 858.50,447.02 859.00,448.18 859.50,446.57 860.00,444.45 860.50,444.97 861.00,445.16 861.50,445.27 862.00,443.38 862.50,443.16 863.00,440.60 863.50,440.84 864.00,441.70 864.50,439.61 865.00,440.32 865.50,438.87 866.00,442.05 866.50,441.10 867.00,442.26 867.50,441.12 868.00,441.99 868.50,445.41 869.00,444.27 869.50,444.80 870.00,446.38 870.50,447.05 871.00,445.46 871.50,446.85 872.00,448.23 872.50,448.65 873.00,449.36 873.50,449.07 874.00,449.54 874.50,450.28 875.00,449.79 875.50,449.92 876.00,450.41 876.50,451.10 877.00,451.17 877.50,451.07 878.00,451.44 878.50,451.77 879.00,452.23 879.50,452.40 880.00,451.11 880.50,453.17 881.00,451.06 881.50,453.02 882.00,452.03 882.50,453.23 883.00,453.73 883.50,451.28 884.00,453.49 884.50,453.28 885.00,452.71 885.50,453.50 886.00,452.81 886.50,453.39 887.00,452.45 887.50,454.07 888.00,453.96 888.50,454.14 889.00,452.99 889.50,455.17 890.00,455.33 890.50,453.60 891.00,453.36 891.50,453.41 892.00,454.39 892.50,454.72 893.00,453.23 893.50,452.17 894.00,454.33 894.50,453.94 895.00,454.15 895.50,454.48 896.00,453.11 896.50,454.15 897.00,453.87 897.50,454.47 898.00,455.22 898.50,454.20 899.00,453.49 899.50,455.32 900.00,454.89 900.50,454.13 901.00,452.78 901.50,453.60 902.00,454.50 902.50,454.87 903.00,453.98 903.50,454.83 904.00,453.93 904.50,454.14 905.00,454.98 905.50,454.31 906.00,454.69 906.50,455.34 907.00,455.58 907.50,454.13 908.00,454.44 908.50,453.54 909.00,453.58 909.50,454.97 910.00,454.29 910.50,453.18 911.00,455.23 911.50,454.08 912.00,454.55 912.50,455.20 913.00,455.20 913.50,454.83 914.00,453.20 914.50,455.40 915.00,454.43 915.50,453.75 916.00,453.10 916.50,456.13 917.00,455.14 917.50,455.14 918.00,455.58 918.50,455.01 919.00,453.84 919.50,455.70 920.00,455.99 920.50,455.60 921.00,456.49 921.50,456.82 922.00,454.53 922.50,454.85 923.00,456.01 923.50,455.42 924.00,455.47 924.50,456.10 925.00,455.96 925.50,454.97 926.00,455.47 926.50,454.77 927.00,455.23 927.50,454.47 928.00,453.76 928.50,455.03 929.00,454.97 929.50,456.25 930.00,456.84 930.50,455.54 931.00,455.94 931.50,455.02 932.00,454.79 932.50,455.35 933.00,455.37 933.50,455.88 934.00,455.74 934.50,457.08 935.00,455.50 935.50,454.30 936.00,455.82 936.50,455.17 937.00,455.93 937.50,456.73 938.00,455.24 938.50,455.74 939.00,456.26 939.50,455.03 940.00,456.04 940.50,456.33 941.00,456.58 941.50,456.84 942.00,456.39 942.50,456.27 943.00,454.77 943.50,453.70 944.00,455.17 944.50,457.21 945.00,456.12 945.50,454.12 946.00,455.70 946.50,456.38 947.00,454.52 947.50,456.59 948.00,455.15 948.50,457.02 949.00,456.18 949.50,458.80 950.00,455.06 950.50,456.43 951.00,454.95 951.50,457.18 952.00,456.32 952.50,457.00 953.00,456.31 953.50,455.24 954.00,455.68 954.50,455.19 955.00,455.36 955.50,456.38 956.00,457.17 956.50,457.00 957.00,456.71 957.50,455.80 958.00,456.72 958.50,455.56 959.00,456.47 959.50,457.01 960.00,456.15 960.50,455.91 961.00,455.95 961.50,456.84 962.00,456.06 962.50,455.12 963.00,455.98 963.50,455.44 964.00,457.62 964.50,456.36 965.00,455.11 965.50,456.58 966.00,456.97 966.50,456.69 967.00,456.07 967.50,456.50 968.00,456.62 968.50,457.24 969.00,456.70 969.50,458.31 970.00,456.22 970.50,457.70 971.00,456.42 971.50,454.97 972.00,455.42 972.50,454.88 973.00,454.97 973.50,457.44 974.00,455.87 974.50,456.94 975.00,455.68 975.50,456.43 976.00,455.55 976.50,457.18 977.00,456.24 977.50,456.07 978.00,456.32 978.50,458.30 979.00,456.84 979.50,457.17 980.00,455.42 980.50,455.92 981.00,456.72 981.50,454.90 982.00,457.61 982.50,456.71 983.00,456.47 983.50,456.31 984.00,456.29 984.50,456.06 985.00,457.66 985.50,457.07 986.00,457.54 986.50,456.23 987.00,455.75 987.50,457.64 988.00,455.46 988.50,455.97 989.00,457.09 989.50,457.41 990.00,455.38 990.50,456.26 991.00,456.51 991.50,456.37 992.00,455.75 992.50,457.05 993.00,456.03 993.50,456.27 994.00,454.57 994.50,456.37 995.00,454.82 995.50,457.06 996.00,456.87 996.50,456.02 997.00,456.58 997.50,456.53 998.00,456.30 998.50,456.73 999.00,456.31 999.50,456.00 1000.00,455.72 1000.50,457.80 1001.00,456.54 1001.50,456.34 1002.00,456.96 1002.50,456.00 1003.00,455.99 1003.50,456.86 1004.00,457.15 1004.50,456.83 1005.00,454.99 1005.50,456.27 1006.00,456.18 1006.50,456.56 1007.00,455.40 1007.50,455.23 1008.00,455.99 1008.50,455.30 1009.00,455.11 1009.50,455.91 1010.00,456.71 1010.50,456.00 1011.00,456.78 1011.50,454.94 1012.00,456.32 1012.50,455.65 1013.00,454.86 1013.50,455.17 1014.00,454.72 1014.50,455.18 1015.00,454.64 1015.50,456.23 1016.00,454.76 1016.50,453.75 1017.00,454.66 1017.50,455.01 1018.00,454.28 1018.50,455.11 1019.00,453.46 1019.50,453.33 1020.00,455.22 1020.50,453.66 1021.00,453.90 1021.50,453.64 1022.00,453.47 1022.50,452.79 1023.00,452.36 1023.50,453.19 1024.00,451.64 1024.50,451.93 1025.00,452.22 1025.50,451.14 1026.00,450.05 1026.50,451.62 1027.00,452.09 1027.40,451.39 1027.50,449.77 1028.00,451.75 1028.50,452.94 1029.00,450.13 1029.50,449.32 1030.00,451.57 1030.50,452.06 1031.00,452.88 1031.50,453.15 1032.00,452.80 1032.50,453.42 1033.00,453.49 1033.50,453.56 1034.00,453.63 1034.50,453.77 1035.00,454.70 1035.50,454.64 1036.00,454.14 1036.50,455.58 1037.00,454.22 1037.50,454.79 1038.00,455.23 1038.50,453.67 1039.00,455.06 1039.50,456.20 1040.00,456.27 1040.50,454.70 1041.00,455.10 1041.50,454.98 1042.00,455.76 1042.50,455.98 1043.00,454.78 1043.50,456.43 1044.00,456.29 1044.50,456.23 1045.00,455.79 1045.50,456.25 1046.00,454.97 1046.50,456.69 1047.00,456.72 1047.50,456.50 1048.00,455.64 1048.50,457.72 1049.00,457.63 1049.50,455.18 1050.00,457.11 1050.50,456.92 1051.00,454.70 1051.50,457.28 1052.00,457.42 1052.50,457.50 1053.00,457.06 1053.50,456.41 1054.00,456.55 1054.50,457.42 1055.00,457.99 1055.50,456.64 1056.00,456.83 1056.50,457.66 1057.00,455.32 1057.50,457.49 1058.00,456.95 1058.50,455.34 1059.00,457.81 1059.50,456.43 1060.00,457.86 1060.50,458.39 1061.00,456.27 1061.50,456.36 1062.00,457.39 1062.50,456.00 1063.00,458.10 1063.50,457.70 1064.00,458.40 1064.50,456.12 1065.00,457.85 1065.50,458.12 1066.00,456.29 1066.50,458.57 1067.00,456.73 1067.50,458.07 1068.00,456.88 1068.50,458.66 1069.00,459.47 1069.50,458.15 1070.00,458.18 1070.50,459.27 1071.00,457.87 1071.50,458.33 1072.00,459.01 1072.50,458.73 1073.00,459.73 1073.50,459.47 1074.00,460.11 1074.50,458.56 1075.00,459.55 1075.50,457.99 1076.00,459.46 1076.50,460.21 1077.00,460.76 1077.50,457.82 1078.00,458.76 1078.50,459.53 1079.00,458.26 1079.50,459.49 1080.00,459.52 1080.50,458.68" fill="none" stroke="#000" stroke-width="1.5" stroke-linejoin="round"/>
<polyline points="75.50,705.76 76.00,701.88 76.50,704.43 77.00,703.62 77.50,703.74 78.00,703.97 78.50,702.46 79.00,704.01 79.50,703.49 80.00,707.08 80.50,704.47 81.00,704.01 81.50,704.09 82.00,703.79 82.50,703.49 83.00,704.08 83.50,704.84 84.00,704.26 84.50,705.30 85.00,704.34 85.50,704.56 86.00,705.87 86.50,705.05 87.00,704.18 87.50,704.48 88.00,705.12 88.50,706.33 89.00,704.48 89.50,704.53 90.00,705.62 90.50,704.04 91.00,704.57 91.50,705.59 92.00,705.36 92.50,704.97 93.00,705.49 93.50,702.54 94.00,705.84 94.50,704.18 95.00,703.60 95.50,705.28 96.00,705.67 96.50,704.72 97.00,704.21 97.50,705.17 98.00,705.13 98.50,706.39 99.00,705.86 99.50,705.41 100.00,706.22 100.50,705.12 101.00,704.54 101.50,705.85 102.00,705.87 102.50,705.22 103.00,704.76 103.50,705.65 104.00,703.36 104.50,706.09 105.00,705.95 105.50,704.16 106.00,705.63 106.50,704.78 107.00,706.27 107.50,703.93 108.00,704.90 108.50,706.31 109.00,706.71 109.50,703.92 110.00,705.36 110.50,706.09 111.00,705.32 111.50,707.21 112.00,704.87 112.50,706.21 113.00,705.04 113.50,707.16 114.00,705.97 114.50,705.69 115.00,704.58 115.50,707.49 116.00,706.73 116.50,706.75 117.00,707.11 117.50,706.46 118.00,705.65 118.50,705.53 119.00,705.56 119.50,707.43 120.00,705.05 120.50,705.81 121.00,706.07 121.50,706.56 122.00,706.88 122.50,705.36 123.00,704.97 123.50,706.47 124.00,707.53 124.50,707.16 125.00,706.73 125.50,706.30 126.00,706.85 126.50,706.42 127.00,707.34 127.50,706.00 128.00,706.81 128.50,706.63 129.00,707.21 129.50,706.97 130.00,708.97 130.50,708.06 131.00,708.04 131.50,705.02 132.00,706.45 132.50,706.20 133.00,707.16 133.50,704.75 134.00,707.67 134.50,707.57 135.00,705.54 135.50,705.80 136.00,705.93 136.50,706.63 137.00,707.13 137.50,708.31 138.00,706.38 138.50,707.19 139.00,706.65 139.50,708.00 140.00,707.12 140.50,707.63 141.00,705.54 141.50,706.28 142.00,705.73 142.50,707.69 143.00,706.95 143.50,706.12 144.00,705.98 144.50,706.76 145.00,705.73 145.50,705.52 146.00,706.71 146.50,708.38 147.00,706.06 147.50,705.78 148.00,705.24 148.50,705.09 149.00,706.65 149.50,706.91 150.00,706.18 150.50,706.44 151.00,706.24 151.50,706.24 152.00,704.81 152.50,705.70 153.00,706.17 153.50,705.40 154.00,705.64 154.50,705.34 155.00,705.73 155.50,706.73 156.00,705.64 156.50,705.84 157.00,706.64 157.50,706.49 158.00,707.36 158.50,704.13 159.00,706.62 159.50,705.46 160.00,705.97 160.50,706.56 161.00,706.75 161.50,706.70 162.00,705.93 162.50,707.15 163.00,705.52 163.50,705.63 164.00,706.41 164.50,705.25 165.00,707.54 165.50,706.55 166.00,707.52 166.50,705.63 167.00,705.31 167.50,705.77 168.00,706.23 168.50,705.09 169.00,705.90 169.50,705.55 170.00,706.92 170.50,704.97 171.00,706.40 171.50,704.95 172.00,704.67 172.50,704.86 173.00,704.44 173.50,705.56 174.00,706.30 174.50,705.54 175.00,705.92 175.50,706.76 176.00,705.59 176.50,705.51 177.00,705.09 177.50,703.94 178.00,705.94 178.50,703.78 179.00,705.82 179.50,705.23 180.00,706.19 180.50,705.16 181.00,704.50 181.50,705.49 182.00,704.69 182.50,705.00 183.00,705.17 183.50,705.01 184.00,704.94 184.50,704.38 185.00,704.91 185.50,703.24 186.00,704.91 186.50,704.01 187.00,705.96 187.50,706.07 188.00,703.32 188.50,705.09 189.00,704.84 189.50,704.04 190.00,705.37 190.50,704.51 191.00,703.38 191.50,704.64 192.00,704.73 192.50,704.93 193.00,703.77 193.50,705.33 194.00,705.41 194.50,703.80 195.00,704.20 195.50,704.67 196.00,704.25 196.50,706.19 197.00,704.87 197.50,703.82 198.00,703.99 198.50,704.60 199.00,706.58 199.50,704.46 200.00,704.71 200.50,705.05 201.00,704.59 201.50,706.58 202.00,704.20 202.50,705.30 203.00,704.82 203.50,705.22 204.00,703.71 204.50,706.22 205.00,704.63 205.50,704.78 206.00,703.97 206.50,704.15 207.00,705.27 207.50,705.64 208.00,705.45 208.50,705.85 209.00,705.45 209.50,704.88 210.00,705.58 210.50,705.39 211.00,704.81 211.50,705.52 212.00,706.01 212.50,705.13 213.00,704.64 213.50,705.57 214.00,706.59 214.50,704.81 215.00,704.92 215.50,704.90 216.00,706.07 216.50,703.48 217.00,705.36 217.50,706.08 218.00,704.39 218.50,706.36 219.00,705.56 219.50,704.65 220.00,705.31 220.50,703.84 221.00,704.68 221.50,706.73 222.00,704.43 222.50,706.77 223.00,705.14 223.50,706.07 224.00,705.28 224.50,703.35 225.00,704.78 225.50,705.44 226.00,704.32 226.50,704.16 227.00,705.63 227.50,704.78 228.00,703.91 228.50,704.78 229.00,706.11 229.50,704.98 230.00,706.19 230.50,706.71 231.00,705.45 231.50,704.48 232.00,704.35 232.50,705.44 233.00,706.23 233.50,705.72 234.00,705.97 234.50,705.14 235.00,705.79 235.50,705.14 236.00,705.28 236.50,704.47 237.00,704.25 237.50,705.19 238.00,704.67 238.50,704.81 239.00,706.21 239.50,705.56 240.00,708.14 240.50,706.46 241.00,705.15 241.50,706.36 242.00,706.02 242.50,705.14 243.00,706.68 243.50,705.09 244.00,703.17 244.50,706.45 245.00,705.27 245.50,707.07 246.00,705.26 246.50,704.83 247.00,707.16 247.50,704.94 248.00,706.04 248.50,707.11 249.00,705.99 249.50,705.84 250.00,706.01 250.50,706.65 251.00,705.26 251.50,706.48 252.00,706.46 252.50,707.97 253.00,705.71 253.50,705.23 254.00,706.65 254.50,705.70 255.00,706.30 255.50,706.18 256.00,707.07 256.50,705.53 257.00,706.02 257.50,703.95 258.00,705.37 258.50,707.45 259.00,705.58 259.50,705.57 260.00,705.15 260.50,706.69 261.00,706.36 261.50,705.21 262.00,706.80 262.50,706.47 263.00,706.90 263.50,705.73 264.00,707.76 264.50,706.64 265.00,706.21 265.50,705.88 266.00,706.13 266.50,707.08 267.00,706.13 267.50,707.29 268.00,706.88 268.50,707.54 269.00,707.10 269.50,706.37 270.00,704.82 270.50,706.70 271.00,707.13 271.50,706.62 272.00,706.96 272.50,706.10 273.00,706.19 273.50,705.73 274.00,707.70 274.50,706.69 275.00,706.15 275.50,705.45 276.00,706.46 276.50,707.83 277.00,707.01 277.50,706.01 278.00,707.86 278.50,707.87 279.00,707.50 279.50,707.35 280.00,707.68 280.50,707.17 281.00,707.38 281.50,706.07 282.00,708.02 282.50,706.95 283.00,708.49 283.50,705.05 284.00,707.40 284.50,707.64 285.00,706.53 285.50,707.22 286.00,707.48 286.50,707.35 287.00,706.41 287.50,706.76 288.00,707.76 288.50,708.00 289.00,707.01 289.50,707.00 290.00,707.12 290.50,707.84 291.00,706.08 291.50,705.86 292.00,707.10 292.50,706.07 293.00,706.53 293.50,707.11 294.00,707.46 294.50,706.15 295.00,707.76 295.50,705.58 296.00,707.56 296.50,705.77 297.00,706.04 297.50,707.68 298.00,706.80 298.50,706.49 299.00,706.80 299.50,707.58 300.00,707.15 300.50,707.17 301.00,708.08 301.50,706.56 302.00,706.76 302.50,706.71 303.00,708.14 303.50,707.98 304.00,708.22 304.50,707.09 305.00,706.97 305.50,707.82 306.00,706.75 306.50,707.78 307.00,707.68 307.50,706.46 308.00,706.98 308.50,706.94 309.00,708.50 309.50,709.22 310.00,706.93 310.50,707.01 311.00,705.05 311.50,707.16 312.00,706.97 312.50,706.05 313.00,707.62 313.50,705.61 314.00,706.75 314.50,707.04 315.00,705.85 315.50,707.63 316.00,707.79 316.50,705.71 317.00,705.68 317.50,707.38 318.00,706.83 318.50,705.82 319.00,706.58 319.50,706.73 320.00,706.69 320.50,707.51 321.00,707.12 321.50,708.29 322.00,707.94 322.50,707.34 323.00,707.67 323.50,707.87 324.00,707.33 324.50,705.68 325.00,707.44 325.50,706.77 326.00,708.07 326.50,706.76 327.00,707.12 327.50,706.94 328.00,708.08 328.50,706.79 329.00,706.40 329.50,706.88 330.00,706.24 330.50,706.74 331.00,706.58 331.50,706.81 332.00,708.20 332.50,706.21 333.00,706.58 333.50,706.36 334.00,707.09 334.50,705.51 335.00,705.91 335.50,706.46 336.00,706.95 336.50,706.44 337.00,706.05 337.50,705.74 338.00,706.90 338.50,707.69 339.00,706.73 339.50,706.61 340.00,706.82 340.50,705.64 341.00,706.17 341.50,706.20 342.00,706.67 342.50,706.38 343.00,705.37 343.50,707.35 344.00,707.83 344.50,706.16 345.00,706.71 345.50,706.59 346.00,707.03 346.50,705.09 347.00,707.71 347.50,705.93 348.00,707.40 348.50,706.38 349.00,705.97 349.50,706.17 350.00,707.04 350.50,705.53 351.00,705.93 351.50,705.83 352.00,704.77 352.50,707.31 353.00,706.68 353.50,706.15 354.00,707.14 354.50,705.32 355.00,706.05 355.50,707.55 356.00,706.89 356.50,704.13 357.00,703.16 357.50,705.07 358.00,706.81 358.50,705.46 359.00,705.61 359.50,706.23 360.00,704.86 360.50,705.68 361.00,706.05 361.50,705.62 362.00,705.37 362.50,704.30 363.00,704.98 363.50,703.85 364.00,704.91 364.50,705.49 365.00,702.09 365.50,700.25 366.00,701.17 366.50,701.51 366.70,702.03 367.00,702.09 367.50,700.81 368.00,701.28 368.50,703.55 369.00,702.01 369.50,704.23 370.00,703.39 370.50,704.43 371.00,704.51 371.50,704.65 372.00,704.71 372.50,703.16 373.00,704.21 373.50,703.88 374.00,704.02 374.50,704.65 375.00,703.19 375.50,702.59 376.00,702.32 376.50,702.40 377.00,703.02 377.50,701.42 378.00,702.86 378.50,701.96 379.00,701.46 379.50,700.56 380.00,702.03 380.50,702.62 381.00,700.78 381.50,703.56 382.00,704.21 382.50,703.33 383.00,703.67 383.50,705.49 384.00,704.64 384.50,702.96 385.00,703.82 385.50,703.80 386.00,703.88 386.50,702.06 387.00,704.76 387.50,703.61 388.00,704.33 388.50,704.10 389.00,704.97 389.50,703.99 390.00,703.57 390.50,704.71 391.00,705.45 391.50,703.98 392.00,705.41 392.50,704.46 393.00,703.77 393.50,705.51 394.00,703.50 394.50,705.13 395.00,703.90 395.50,704.77 396.00,703.40 396.50,703.79 397.00,705.47 397.50,704.78 398.00,704.71 398.50,704.35 399.00,705.16 399.50,703.64 400.00,703.93 400.50,704.80 401.00,704.27 401.50,704.44 402.00,705.02 402.50,705.01 403.00,704.98 403.50,706.63 404.00,706.11 404.50,706.34 405.00,705.31 405.50,704.94 406.00,704.16 406.50,705.06 407.00,703.54 407.50,704.77 408.00,705.85 408.50,706.52 409.00,705.89 409.50,704.25 410.00,705.29 410.50,704.07 411.00,705.27 411.50,704.26 412.00,704.79 412.50,705.83 413.00,703.83 413.50,704.16 414.00,701.14 414.50,699.43 415.00,700.22 415.50,701.12 416.00,700.39 416.50,702.05 417.00,701.58 417.50,703.16 418.00,704.44 418.50,703.85 419.00,703.59 419.50,702.99 420.00,704.56 420.50,704.97 421.00,704.82 421.50,704.54 422.00,703.24 422.50,705.82 423.00,704.26 423.50,704.16 424.00,704.88 424.50,702.39 425.00,704.14 425.50,704.05 426.00,704.44 426.50,705.23 427.00,704.45 427.50,702.44 428.00,703.66 428.50,704.08 429.00,703.98 429.50,702.71 430.00,702.33 430.50,704.15 431.00,703.92 431.50,703.55 432.00,702.03 432.50,704.97 433.00,700.96 433.50,703.08 434.00,705.13 434.50,703.17 435.00,703.46 435.50,702.21 436.00,704.31 436.50,702.00 437.00,703.26 437.50,703.09 438.00,702.01 438.50,703.59 439.00,701.56 439.50,702.10 440.00,702.57 440.50,702.15 441.00,702.81 441.50,703.10 442.00,701.95 442.50,701.63 443.00,701.53 443.50,701.54 444.00,702.40 444.50,701.39 445.00,701.77 445.50,701.19 446.00,700.38 446.50,701.66 447.00,699.85 447.50,700.54 448.00,701.59 448.50,699.18 449.00,699.83 449.50,698.28 450.00,698.93 450.50,697.81 451.00,698.47 451.50,698.00 452.00,698.23 452.50,699.10 453.00,697.59 453.50,697.48 454.00,696.41 454.50,695.74 455.00,694.67 455.50,693.24 456.00,694.15 456.50,694.73 457.00,692.94 457.50,691.22 458.00,692.19 458.50,689.56 459.00,688.62 459.50,687.52 460.00,687.39 460.30,687.95 460.50,689.89 461.00,688.32 461.50,688.20 462.00,689.34 462.50,690.54 463.00,690.19 463.50,692.65 464.00,693.99 464.50,694.45 465.00,695.40 465.50,694.45 466.00,694.70 466.50,697.79 467.00,698.13 467.50,696.35 468.00,698.27 468.50,698.52 469.00,699.33 469.50,699.40 470.00,699.12 470.50,700.03 471.00,700.29 471.50,700.39 472.00,699.12 472.50,698.40 473.00,700.52 473.50,700.02 474.00,701.84 474.50,702.44 475.00,702.25 475.50,701.90 476.00,702.45 476.50,703.55 477.00,702.10 477.50,703.66 478.00,703.62 478.50,703.38 479.00,704.53 479.50,702.81 480.00,704.34 480.50,702.87 481.00,703.12 481.50,702.98 482.00,704.36 482.50,703.28 483.00,704.22 483.50,703.29 484.00,705.25 484.50,705.99 485.00,704.70 485.50,705.98 486.00,705.13 486.50,706.57 487.00,704.87 487.50,703.52 488.00,706.18 488.50,704.87 489.00,704.15 489.50,704.53 490.00,703.75 490.50,705.04 491.00,704.32 491.50,706.54 492.00,705.89 492.50,703.95 493.00,704.12 493.50,704.96 494.00,703.84 494.50,705.42 495.00,705.51 495.50,704.92 496.00,705.14 496.50,706.06 497.00,706.87 497.50,706.96 498.00,705.74 498.50,706.47 499.00,705.13 499.50,706.13 500.00,704.98 500.50,706.45 501.00,704.80 501.50,705.05 502.00,705.88 502.50,706.38 503.00,704.71 503.50,705.49 504.00,706.08 504.50,706.17 505.00,705.28 505.50,706.08 506.00,705.78 506.50,707.21 507.00,706.50 507.50,704.91 508.00,704.17 508.50,706.12 509.00,707.05 509.50,706.19 510.00,706.79 510.50,705.62 511.00,704.87 511.50,706.66 512.00,706.10 512.50,706.58 513.00,704.81 513.50,706.12 514.00,705.42 514.50,706.62 515.00,705.42 515.50,705.37 516.00,705.36 516.50,706.90 517.00,705.82 517.50,705.11 518.00,704.85 518.50,704.78 519.00,706.87 519.50,704.03 520.00,704.80 520.50,706.00 521.00,706.40 521.50,705.20 522.00,705.92 522.50,705.82 523.00,705.93 523.50,705.04 524.00,706.31 524.50,704.95 525.00,705.94 525.50,703.56 526.00,705.14 526.50,703.11 527.00,702.73 527.50,704.24 528.00,702.92 528.50,703.79 529.00,702.28 529.50,704.31 530.00,702.70 530.50,701.46 531.00,702.28 531.50,702.57 532.00,700.83 532.50,701.56 533.00,702.47 533.50,701.05 534.00,699.85 534.50,698.89 535.00,699.34 535.50,696.99 536.00,695.08 536.50,696.43 537.00,695.35 537.50,696.97 538.00,694.75 538.50,692.87 539.00,691.72 539.50,692.05 540.00,689.74 540.50,688.69 541.00,687.75 541.50,686.46 542.00,684.93 542.50,683.33 543.00,682.66 543.50,681.28 544.00,676.70 544.50,678.60 545.00,674.90 545.50,674.36 546.00,671.39 546.50,671.25 547.00,670.42 547.50,669.92 547.60,669.72 548.00,670.29 548.50,669.17 549.00,670.50 549.50,672.06 550.00,673.08 550.50,673.41 551.00,674.75 551.50,676.19 552.00,676.70 552.50,677.82 553.00,681.45 553.50,680.88 554.00,682.28 554.50,682.43 555.00,684.91 555.50,685.90 556.00,684.69 556.50,685.65 557.00,684.76 557.50,686.96 558.00,686.14 558.50,684.39 559.00,685.74 559.50,684.39 560.00,683.64 560.50,682.58 561.00,680.46 561.50,679.03 562.00,678.14 562.50,675.30 563.00,671.79 563.50,670.99 564.00,665.01 564.50,659.69 565.00,653.36 565.50,646.74 566.00,637.10 566.50,623.85 567.00,608.14 567.50,585.32 568.00,560.17 568.50,529.07 569.00,496.82 569.50,470.61 570.00,459.67 570.50,473.10 571.00,496.58 571.50,530.52 572.00,562.19 572.50,588.59 573.00,609.14 573.50,622.97 574.00,637.44 574.50,649.18 575.00,655.85 575.50,662.28 576.00,666.52 576.50,673.98 577.00,677.08 577.50,679.03 578.00,682.35 578.50,684.69 579.00,685.84 579.50,688.31 580.00,690.31 580.50,691.93 581.00,693.76 581.50,693.81 582.00,694.37 582.50,695.99 583.00,695.92 583.50,696.12 584.00,698.82 584.50,698.13 585.00,699.12 585.50,700.08 586.00,699.06 586.50,700.98 587.00,701.22 587.50,701.12 588.00,701.89 588.50,701.23 589.00,700.30 589.50,702.22 590.00,701.95 590.50,703.70 591.00,703.42 591.50,702.96 592.00,703.65 592.50,704.96 593.00,704.95 593.50,704.47 594.00,704.68 594.50,704.23 595.00,704.50 595.50,705.25 596.00,704.77 596.50,705.25 597.00,704.16 597.50,703.80 598.00,703.88 598.50,705.05 599.00,706.65 599.50,706.62 600.00,704.85 600.50,704.45 601.00,706.53 601.50,706.32 602.00,704.84 602.50,706.97 603.00,706.28 603.50,707.32 604.00,706.55 604.50,707.07 605.00,706.64 605.50,705.61 606.00,706.28 606.50,705.95 607.00,707.28 607.50,705.77 608.00,705.35 608.50,707.28 609.00,707.71 609.50,708.00 610.00,707.74 610.50,705.57 611.00,706.29 611.50,706.45 612.00,706.93 612.50,705.14 613.00,707.00 613.50,707.27 614.00,706.25 614.50,707.18 615.00,708.12 615.50,707.17 616.00,708.05 616.50,708.04 617.00,707.55 617.50,707.55 618.00,706.92 618.50,708.31 619.00,706.88 619.50,706.70 620.00,707.91 620.50,706.70 621.00,707.68 621.50,708.22 622.00,707.39 622.50,707.41 623.00,708.10 623.50,707.96 624.00,706.01 624.50,706.21 625.00,708.45 625.50,707.65 626.00,705.54 626.50,706.16 627.00,707.33 627.50,706.47 628.00,707.70 628.50,707.36 629.00,707.70 629.50,706.29 630.00,707.80 630.50,708.93 631.00,706.58 631.50,708.37 632.00,708.07 632.50,707.78 633.00,707.16 633.50,706.22 634.00,706.45 634.50,707.84 635.00,708.01 635.50,708.20 636.00,707.97 636.50,707.90 637.00,706.75 637.50,706.08 638.00,707.26 638.50,707.50 639.00,707.13 639.50,705.75 640.00,706.58 640.50,705.79 641.00,707.19 641.50,706.20 642.00,706.97 642.50,707.40 643.00,707.27 643.50,708.33 644.00,706.25 644.50,705.35 645.00,708.02 645.50,708.43 646.00,708.47 646.50,707.50 647.00,707.73 647.50,707.39 648.00,706.19 648.50,706.81 649.00,707.72 649.50,706.81 650.00,708.93 650.50,705.99 651.00,706.93 651.50,708.24 652.00,706.77 652.50,706.31 653.00,706.11 653.50,706.63 654.00,708.51 654.50,707.55 655.00,707.61 655.50,706.69 656.00,707.81 656.50,707.14 657.00,706.22 657.50,706.56 658.00,707.05 658.50,707.80 659.00,706.67 659.50,707.05 660.00,708.23 660.50,705.71 661.00,705.20 661.50,706.94 662.00,706.30 662.50,705.62 663.00,705.67 663.50,704.89 664.00,705.29 664.50,704.20 665.00,704.76 665.50,702.61 666.00,702.38 666.50,702.55 667.00,701.33 667.50,701.47 668.00,699.85 668.50,698.24 669.00,697.46 669.50,695.13 670.00,692.16 670.50,689.96 671.00,687.06 671.50,683.38 672.00,678.88 672.50,673.34 673.00,665.33 673.50,657.14 674.00,646.34 674.50,634.83 675.00,628.47 675.50,624.01 676.00,626.69 676.50,635.26 677.00,646.20 677.50,655.85 678.00,665.75 678.50,672.93 679.00,679.43 679.50,683.54 680.00,688.11 680.50,690.66 681.00,694.11 681.50,694.19 682.00,697.63 682.50,699.82 683.00,700.44 683.50,700.93 684.00,702.26 684.50,701.80 685.00,702.44 685.50,703.39 686.00,704.04 686.50,705.40 687.00,704.18 687.50,706.12 688.00,704.22 688.50,705.14 689.00,706.01 689.50,707.23 690.00,705.91 690.50,704.78 691.00,707.11 691.50,706.87 692.00,706.10 692.50,706.25 693.00,706.66 693.50,707.43 694.00,708.00 694.50,706.26 695.00,709.53 695.50,707.61 696.00,707.38 696.50,708.32 697.00,707.89 697.50,709.83 698.00,708.81 698.50,707.61 699.00,707.62 699.50,707.56 700.00,707.72 700.50,708.61 701.00,707.52 701.50,709.46 702.00,708.04 702.50,708.00 703.00,708.95 703.50,706.48 704.00,707.38 704.50,708.70 705.00,708.21 705.50,708.20 706.00,708.56 706.50,707.72 707.00,708.09 707.50,707.08 708.00,706.65 708.50,709.33 709.00,707.46 709.50,707.65 710.00,709.45 710.50,709.17 711.00,707.82 711.50,707.82 712.00,708.20 712.50,707.46 713.00,708.74 713.50,708.39 714.00,708.38 714.50,708.91 715.00,708.87 715.50,709.83 716.00,709.55 716.50,706.80 717.00,709.02 717.50,707.30 718.00,707.03 718.50,708.85 719.00,707.64 719.50,707.96 720.00,709.14 720.50,707.66 721.00,707.45 721.50,708.49 722.00,709.24 722.50,708.65 723.00,706.87 723.50,707.63 724.00,708.05 724.50,709.81 725.00,708.92 725.50,708.88 726.00,709.17 726.50,707.88 727.00,708.54 727.50,708.57 728.00,707.35 728.50,708.19 729.00,708.71 729.50,707.34 730.00,708.97 730.50,708.95 731.00,709.21 731.50,707.70 732.00,708.47 732.50,709.64 733.00,709.10 733.50,707.78 734.00,708.66 734.50,709.70 735.00,708.45 735.50,708.86 736.00,710.75 736.50,708.55 737.00,708.51 737.50,707.77 738.00,708.09 738.50,709.93 739.00,708.57 739.50,707.71 740.00,707.94 740.50,708.76 741.00,709.43 741.50,708.16 742.00,709.42 742.50,708.42 743.00,709.16 743.50,709.32 744.00,709.41 744.50,708.55 745.00,708.79 745.50,709.38 746.00,707.87 746.50,709.13 747.00,709.44 747.50,709.91 748.00,709.01 748.50,708.90 749.00,709.19 749.50,708.47 750.00,708.93 750.50,709.47 751.00,709.38 751.50,708.27 752.00,708.89 752.50,707.39 753.00,709.88 753.50,708.73 754.00,709.36 754.50,708.20 755.00,709.03 755.50,709.46 756.00,709.89 756.50,707.87 757.00,709.72 757.50,708.84 758.00,708.29 758.50,709.33 759.00,708.64 759.50,708.61 760.00,708.24 760.50,708.99 761.00,708.80 761.50,708.59 762.00,707.90 762.50,708.24 763.00,708.98 763.50,709.69 764.00,708.55 764.50,709.73 765.00,708.48 765.50,707.53 766.00,708.95 766.50,707.55 767.00,708.67 767.50,709.19 768.00,707.97 768.50,708.10 769.00,710.22 769.50,708.27 770.00,708.24 770.50,708.62 771.00,707.81 771.50,707.75 772.00,708.08 772.50,705.65 773.00,708.80 773.50,706.61 774.00,706.52 774.50,707.80 775.00,707.27 775.50,706.09 776.00,707.22 776.50,705.97 777.00,706.23 777.50,705.43 778.00,705.88 778.50,706.79 779.00,706.43 779.50,706.46 780.00,706.86 780.50,705.91 781.00,705.27 781.50,705.48 782.00,707.01 782.50,705.54 783.00,705.70 783.50,705.28 784.00,705.52 784.50,705.65 785.00,705.26 785.50,705.15 786.00,704.64 786.50,704.62 787.00,705.73 787.50,706.08 788.00,706.30 788.50,705.64 789.00,704.98 789.50,706.30 790.00,706.37 790.50,704.65 791.00,706.69 791.50,706.58 792.00,707.57 792.50,705.27 793.00,705.20 793.50,707.01 794.00,704.87 794.50,705.82 795.00,705.56 795.50,705.67 796.00,704.94 796.50,706.38 797.00,707.43 797.50,707.00 798.00,707.02 798.50,706.35 799.00,707.89 799.50,707.11 800.00,707.56 800.50,705.35 801.00,706.95 801.50,705.67 802.00,706.93 802.50,706.78 803.00,705.64 803.50,706.72 804.00,707.54 804.50,706.96 805.00,707.00 805.50,705.74 806.00,705.86 806.50,705.45 807.00,706.46 807.50,707.31 808.00,706.61 808.50,706.18 809.00,705.17 809.50,706.42 810.00,705.76 810.50,704.26 811.00,704.31 811.50,705.38 812.00,704.79 812.50,706.82 813.00,705.30 813.50,704.23 814.00,704.52 814.50,706.09 815.00,703.72 815.50,704.94 816.00,704.40 816.50,704.99 817.00,703.89 817.50,702.76 818.00,703.18 818.50,702.39 819.00,702.73 819.50,701.40 820.00,702.63 820.50,700.35 821.00,700.26 821.50,698.76 822.00,698.83 822.50,698.14 823.00,697.65 823.50,697.67 824.00,695.88 824.50,695.08 825.00,696.26 825.50,694.68 826.00,694.05 826.50,695.40 827.00,695.01 827.50,692.17 828.00,694.26 828.50,695.53 829.00,695.95 829.50,695.27 830.00,697.55 830.50,696.11 831.00,697.17 831.50,698.06 832.00,698.54 832.50,699.80 833.00,700.54 833.50,700.17 834.00,701.89 834.50,700.60 835.00,701.44 835.50,703.49 836.00,702.49 836.50,703.66 837.00,702.71 837.50,703.14 838.00,703.54 838.50,704.02 839.00,703.80 839.50,704.30 840.00,705.03 840.50,705.64 841.00,704.85 841.50,705.43 842.00,705.77 842.50,704.19 843.00,703.85 843.50,706.63 844.00,706.45 844.50,705.44 845.00,705.74 845.50,704.69 846.00,704.35 846.50,705.82 847.00,704.32 847.50,706.37 848.00,705.04 848.50,705.87 849.00,707.27 849.50,707.23 850.00,705.40 850.50,706.57 851.00,704.83 851.50,705.23 852.00,706.06 852.50,706.94 853.00,705.29 853.50,706.24 854.00,705.87 854.50,704.71 855.00,705.64 855.50,707.00 856.00,705.62 856.50,706.07 857.00,706.29 857.50,704.89 858.00,706.47 858.50,706.59 859.00,706.54 859.50,706.15 860.00,704.46 860.50,704.15 861.00,703.74 861.50,703.36 862.00,703.14 862.50,704.30 863.00,704.31 863.50,702.09 864.00,702.87 864.50,700.64 865.00,700.97 865.50,699.98 866.00,699.10 866.50,700.29 867.00,700.21 867.20,699.80 867.50,699.74 868.00,699.47 868.50,700.36 869.00,700.19 869.50,701.17 870.00,700.25 870.50,701.80 871.00,702.39 871.50,703.38 872.00,703.58 872.50,703.22 873.00,702.84 873.50,702.21 874.00,704.10 874.50,705.62 875.00,706.14 875.50,702.87 876.00,704.66 876.50,705.26 877.00,704.92 877.50,706.19 878.00,706.29 878.50,706.02 879.00,706.62 879.50,705.48 880.00,706.18 880.50,706.41 881.00,708.09 881.50,706.09 882.00,707.43 882.50,708.40 883.00,707.82 883.50,708.68 884.00,707.55 884.50,708.57 885.00,709.06 885.50,710.28 886.00,709.08 886.50,709.76 887.00,708.63 887.50,708.78 888.00,710.10 888.50,709.33 889.00,710.10 889.50,709.57 890.00,710.83 890.50,711.11 891.00,708.43 891.50,710.78 892.00,709.62 892.50,709.71 893.00,709.26 893.50,710.02 894.00,708.51 894.50,708.89 895.00,708.90 895.50,709.84 896.00,710.43 896.50,710.31 897.00,710.04 897.50,709.27 898.00,708.32 898.50,710.20 899.00,710.02 899.50,710.24 900.00,711.18 900.50,709.85 901.00,709.87 901.50,708.11 902.00,710.59 902.50,710.11 903.00,709.56 903.50,710.55 904.00,709.37 904.50,709.83 905.00,711.99 905.50,710.99 906.00,711.16 906.50,711.03 907.00,710.96 907.50,710.60 908.00,712.40 908.50,710.42 909.00,711.13 909.50,710.33 910.00,710.24 910.50,708.49 911.00,708.95 911.50,711.92 912.00,711.88 912.50,710.27 913.00,710.63 913.50,711.20 914.00,709.85 914.50,712.22 915.00,709.85 915.50,710.14 916.00,708.42 916.50,712.07 917.00,710.85 917.50,712.20 918.00,709.99 918.50,711.14 919.00,710.94 919.50,711.06 920.00,712.67 920.50,712.85 921.00,712.12 921.50,710.62 922.00,711.74 922.50,712.14 923.00,711.48 923.50,711.51 924.00,711.45 924.50,710.29 925.00,711.28 925.50,712.46 926.00,710.26 926.50,711.19 927.00,711.85 927.50,710.00 928.00,711.06 928.50,709.75 929.00,710.69 929.50,710.02 930.00,710.47 930.50,710.83 931.00,711.03 931.50,711.11 932.00,709.25 932.50,712.66 933.00,711.09 933.50,710.41 934.00,710.82 934.50,711.63 935.00,710.53 935.50,711.05 936.00,711.02 936.50,711.89 937.00,710.81 937.50,711.85 938.00,711.77 938.50,711.37 939.00,712.56 939.50,711.54 940.00,710.54 940.50,711.80 941.00,711.67 941.50,711.55 942.00,711.79 942.50,713.61 943.00,711.82 943.50,712.03 944.00,711.45 944.50,712.78 945.00,711.64 945.50,711.02 946.00,710.67 946.50,712.18 947.00,712.37 947.50,710.41 948.00,711.16 948.50,712.33 949.00,712.67 949.50,710.67 950.00,711.44 950.50,712.49 951.00,711.33 951.50,711.40 952.00,711.32 952.50,710.66 953.00,711.81 953.50,712.02 954.00,710.57 954.50,711.84 955.00,712.69 955.50,711.92 956.00,712.55 956.50,711.27 957.00,712.89 957.50,711.06 958.00,713.32 958.50,711.34 959.00,711.10 959.50,710.95 960.00,711.35 960.50,711.28 961.00,711.11 961.50,711.41 962.00,712.25 962.50,712.43 963.00,711.39 963.50,712.72 964.00,710.82 964.50,710.79 965.00,710.69 965.50,712.16 966.00,710.33 966.50,710.45 967.00,712.72 967.50,713.08 968.00,712.77 968.50,710.35 969.00,711.62 969.50,712.31 970.00,711.68 970.50,710.22 971.00,711.30 971.50,710.14 972.00,710.53 972.50,713.40 973.00,712.14 973.50,710.31 974.00,710.28 974.50,711.94 975.00,711.03 975.50,712.03 976.00,710.98 976.50,711.35 977.00,711.72 977.50,710.63 978.00,709.87 978.50,710.48 979.00,710.90 979.50,711.31 980.00,711.43 980.50,711.41 981.00,711.90 981.50,710.70 982.00,712.64 982.50,713.15 983.00,711.75 983.50,711.59 984.00,712.48 984.50,711.97 985.00,711.57 985.50,711.26 986.00,710.76 986.50,710.39 987.00,711.94 987.50,712.38 988.00,710.46 988.50,711.29 989.00,711.53 989.50,710.97 990.00,710.68 990.50,710.98 991.00,709.63 991.50,711.24 992.00,711.04 992.50,713.08 993.00,712.08 993.50,710.98 994.00,711.27 994.50,712.73 995.00,712.63 995.50,711.42 996.00,711.15 996.50,710.02 997.00,710.97 997.50,711.10 998.00,710.61 998.50,712.70 999.00,709.63 999.50,711.10 1000.00,711.55 1000.50,711.57 1001.00,712.62 1001.50,709.99 1002.00,710.53 1002.50,711.23 1003.00,711.25 1003.50,710.80 1004.00,710.46 1004.50,712.00 1005.00,710.18 1005.50,710.57 1006.00,712.26 1006.50,712.49 1007.00,711.73 1007.50,710.23 1008.00,710.21 1008.50,710.14 1009.00,709.90 1009.50,710.48 1010.00,711.87 1010.50,710.93 1011.00,710.05 1011.50,709.98 1012.00,709.59 1012.50,711.55 1013.00,708.73 1013.50,710.60 1014.00,709.06 1014.50,709.27 1015.00,708.79 1015.50,710.74 1016.00,709.71 1016.50,711.94 1017.00,708.54 1017.50,708.28 1018.00,709.47 1018.50,709.17 1019.00,708.13 1019.50,706.27 1020.00,708.78 1020.50,707.51 1021.00,706.75 1021.50,705.16 1022.00,705.32 1022.50,703.22 1023.00,702.42 1023.50,700.63 1024.00,699.94 1024.50,696.17 1025.00,693.63 1025.50,691.98 1026.00,688.39 1026.50,685.85 1027.00,684.38 1027.20,684.50 1027.50,684.17 1028.00,686.65 1028.50,690.44 1029.00,691.93 1029.50,693.76 1030.00,695.98 1030.50,699.33 1031.00,700.01 1031.50,701.22 1032.00,703.18 1032.50,703.92 1033.00,706.44 1033.50,705.17 1034.00,708.33 1034.50,706.84 1035.00,708.00 1035.50,708.82 1036.00,708.75 1036.50,709.43 1037.00,708.20 1037.50,707.31 1038.00,709.24 1038.50,708.13 1039.00,709.20 1039.50,710.61 1040.00,709.75 1040.50,709.50 1041.00,709.13 1041.50,709.92 1042.00,710.09 1042.50,708.95 1043.00,710.60 1043.50,709.48 1044.00,710.62 1044.50,710.09 1045.00,711.35 1045.50,711.27 1046.00,710.58 1046.50,710.51 1047.00,711.00 1047.50,711.83 1048.00,711.58 1048.50,710.83 1049.00,710.98 1049.50,712.07 1050.00,709.36 1050.50,711.23 1051.00,710.01 1051.50,711.94 1052.00,710.38 1052.50,710.72 1053.00,709.90 1053.50,710.85 1054.00,711.52 1054.50,712.27 1055.00,709.78 1055.50,710.49 1056.00,714.19 1056.50,711.68 1057.00,710.87 1057.50,711.33 1058.00,708.62 1058.50,712.33 1059.00,711.15 1059.50,709.86 1060.00,712.14 1060.50,710.67 1061.00,710.40 1061.50,711.78 1062.00,711.74 1062.50,711.07 1063.00,711.45 1063.50,710.43 1064.00,710.41 1064.50,712.46 1065.00,712.88 1065.50,712.19 1066.00,712.20 1066.50,711.60 1067.00,711.89 1067.50,711.26 1068.00,713.61 1068.50,711.69 1069.00,712.58 1069.50,712.29 1070.00,711.16 1070.50,714.06 1071.00,712.15 1071.50,711.87 1072.00,712.68 1072.50,711.88 1073.00,712.72 1073.50,711.94 1074.00,713.29 1074.50,712.92 1075.00,711.77 1075.50,713.87 1076.00,713.21 1076.50,712.16 1077.00,713.46 1077.50,713.58 1078.00,714.86 1078.50,712.60 1079.00,714.12 1079.50,713.37 1080.00,714.03 1080.50,713.28" fill="none" stroke="#000" stroke-width="1.5" stroke-linejoin="round"/>
<polyline points="75.50,825.84 76.00,825.93 76.50,826.32 77.00,826.08 77.50,825.56 78.00,825.90 78.50,825.75 79.00,825.90 79.50,825.49 80.00,825.87 80.50,825.85 81.00,826.12 81.50,825.82 82.00,825.84 82.50,825.37 83.00,826.16 83.50,825.21 84.00,825.84 84.50,825.55 85.00,825.45 85.50,825.51 86.00,825.51 86.50,825.75 87.00,825.64 87.50,825.98 88.00,825.23 88.50,825.59 89.00,825.35 89.50,825.65 90.00,824.92 90.50,825.20 91.00,825.17 91.50,824.61 92.00,824.93 92.50,824.47 93.00,824.32 93.50,823.93 94.00,823.07 94.50,822.65 95.00,822.34 95.50,822.16 96.00,821.94 96.50,821.54 97.00,821.63 97.50,821.70 98.00,821.90 98.50,822.15 99.00,822.39 99.50,823.11 100.00,822.79 100.50,823.10 101.00,823.54 101.50,823.50 102.00,823.90 102.50,824.25 103.00,824.68 103.50,824.47 104.00,825.30 104.50,825.16 105.00,825.49 105.50,825.86 106.00,826.02 106.50,826.30 107.00,826.29 107.50,826.42 108.00,826.65 108.50,826.52 109.00,827.16 109.50,826.86 110.00,826.89 110.50,827.75 111.00,827.39 111.50,827.27 112.00,828.05 112.50,827.68 113.00,828.09 113.50,827.77 114.00,827.99 114.50,827.77 115.00,827.81 115.50,828.10 116.00,828.38 116.50,828.66 117.00,829.09 117.50,828.41 118.00,828.93 118.50,828.65 119.00,828.83 119.50,828.60 120.00,828.67 120.50,828.85 121.00,828.78 121.50,829.07 122.00,828.93 122.50,829.38 123.00,829.16 123.50,829.18 124.00,829.41 124.50,829.29 125.00,829.19 125.50,829.19 126.00,829.20 126.50,829.48 127.00,829.43 127.50,829.35 128.00,829.46 128.50,829.17 129.00,829.42 129.50,829.01 130.00,829.63 130.50,829.36 131.00,829.39 131.50,829.50 132.00,829.37 132.50,829.33 133.00,829.66 133.50,829.43 134.00,829.21 134.50,829.52 135.00,829.06 135.50,829.81 136.00,829.41 136.50,829.47 137.00,829.97 137.50,829.95 138.00,829.51 138.50,829.63 139.00,829.74 139.50,829.88 140.00,829.49 140.50,829.56 141.00,829.80 141.50,829.60 142.00,829.71 142.50,829.69 143.00,829.31 143.50,829.38 144.00,828.99 144.50,829.53 145.00,829.88 145.50,829.35 146.00,829.87 146.50,829.83 147.00,829.60 147.50,829.62 148.00,829.65 148.50,829.45 149.00,829.58 149.50,829.64 150.00,829.79 150.50,829.83 151.00,829.50 151.50,829.85 152.00,829.51 152.50,829.65 153.00,829.77 153.50,829.69 154.00,829.67 154.50,829.76 155.00,829.57 155.50,829.54 156.00,829.64 156.50,829.89 157.00,829.65 157.50,830.09 158.00,829.71 158.50,829.01 159.00,829.56 159.50,830.02 160.00,829.65 160.50,829.55 161.00,829.45 161.50,829.93 162.00,829.85 162.50,829.78 163.00,829.72 163.50,829.94 164.00,829.79 164.50,829.34 165.00,829.77 165.50,829.64 166.00,829.57 166.50,829.76 167.00,829.59 167.50,828.94 168.00,829.92 168.50,829.80 169.00,829.54 169.50,829.48 170.00,829.61 170.50,829.27 171.00,829.62 171.50,829.49 172.00,829.46 172.50,829.33 173.00,829.38 173.50,829.77 174.00,829.81 174.50,829.62 175.00,829.50 175.50,829.31 176.00,829.66 176.50,829.85 177.00,829.13 177.50,829.74 178.00,829.00 178.50,829.40 179.00,829.55 179.50,829.16 180.00,829.12 180.50,829.49 181.00,829.64 181.50,829.34 182.00,829.73 182.50,829.26 183.00,829.81 183.50,829.45 184.00,829.47 184.50,829.55 185.00,829.48 185.50,829.81 186.00,829.88 186.50,829.51 187.00,829.35 187.50,829.12 188.00,829.21 188.50,829.37 189.00,829.34 189.50,829.35 190.00,829.35 190.50,829.46 191.00,829.05 191.50,829.11 192.00,829.58 192.50,829.51 193.00,829.20 193.50,829.60 194.00,829.16 194.50,829.25 195.00,828.90 195.50,829.48 196.00,829.29 196.50,829.52 197.00,829.43 197.50,829.29 198.00,829.30 198.50,829.53 199.00,829.22 199.50,829.22 200.00,829.26 200.50,829.42 201.00,829.44 201.50,829.65 202.00,829.21 202.50,829.50 203.00,829.07 203.50,829.35 204.00,829.24 204.50,829.59 205.00,829.35 205.50,829.12 206.00,829.35 206.50,829.30 207.00,829.16 207.50,829.16 208.00,829.02 208.50,829.84 209.00,829.27 209.50,829.45 210.00,828.99 210.50,829.01 211.00,829.21 211.50,829.22 212.00,829.43 212.50,829.03 213.00,829.38 213.50,829.59 214.00,829.06 214.50,829.46 215.00,829.06 215.50,829.35 216.00,829.35 216.50,829.66 217.00,829.12 217.50,829.32 218.00,829.51 218.50,829.02 219.00,829.28 219.50,829.10 220.00,829.13 220.50,829.44 221.00,829.45 221.50,829.86 222.00,829.60 222.50,829.58 223.00,829.26 223.50,829.24 224.00,829.33 224.50,828.80 225.00,829.67 225.50,829.16 226.00,829.08 226.50,829.21 227.00,829.50 227.50,829.59 228.00,829.23 228.50,829.41 229.00,829.30 229.50,829.10 230.00,829.35 230.50,829.32 231.00,828.98 231.50,829.56 232.00,828.97 232.50,829.37 233.00,829.09 233.50,829.14 234.00,829.16 234.50,829.47 235.00,829.04 235.50,829.28 236.00,829.66 236.50,829.16 237.00,829.31 237.50,829.46 238.00,829.18 238.50,829.41 239.00,829.16 239.50,829.46 240.00,829.32 240.50,829.10 241.00,829.62 241.50,829.29 242.00,829.26 242.50,829.12 243.00,829.22 243.50,829.30 244.00,829.36 244.50,829.57 245.00,829.04 245.50,829.25 246.00,829.59 246.50,829.36 247.00,829.41 247.50,829.66 248.00,829.38 248.50,829.40 249.00,829.27 249.50,829.66 250.00,829.49 250.50,829.08 251.00,829.33 251.50,828.93 252.00,829.39 252.50,829.26 253.00,829.04 253.50,828.93 254.00,828.57 254.50,829.06 255.00,828.79 255.50,828.67 256.00,828.80 256.50,828.39 257.00,828.28 257.50,828.13 258.00,827.85 258.50,828.52 259.00,827.79 259.50,827.58 260.00,827.68 260.50,826.61 261.00,827.12 261.50,826.95 262.00,826.58 262.50,826.75 263.00,826.09 263.50,826.46 264.00,826.61 264.30,825.93 264.50,826.10 265.00,826.43 265.50,826.55 266.00,826.53 266.50,826.91 267.00,827.05 267.50,826.89 268.00,827.36 268.50,827.30 269.00,827.32 269.50,827.44 270.00,828.38 270.50,828.29 271.00,828.91 271.50,828.31 272.00,828.70 272.50,828.98 273.00,828.99 273.50,829.24 274.00,829.26 274.50,829.18 275.00,828.88 275.50,829.26 276.00,829.91 276.50,829.76 277.00,829.95 277.50,829.56 278.00,829.69 278.50,829.58 279.00,829.90 279.50,829.86 280.00,829.98 280.50,830.30 281.00,829.75 281.50,830.12 282.00,829.68 282.50,830.25 283.00,829.94 283.50,830.04 284.00,830.10 284.50,830.46 285.00,830.10 285.50,830.02 286.00,829.89 286.50,830.23 287.00,829.99 287.50,830.09 288.00,830.21 288.50,830.38 289.00,830.09 289.50,830.41 290.00,830.66 290.50,829.96 291.00,830.59 291.50,830.78 292.00,830.18 292.50,830.46 293.00,830.03 293.50,830.42 294.00,830.28 294.50,830.43 295.00,830.17 295.50,830.19 296.00,830.28 296.50,830.23 297.00,830.26 297.50,830.36 298.00,830.17 298.50,830.39 299.00,830.53 299.50,829.93 300.00,830.49 300.50,830.28 301.00,830.21 301.50,830.17 302.00,830.28 302.50,830.31 303.00,830.56 303.50,830.21 304.00,830.72 304.50,830.32 305.00,830.66 305.50,830.76 306.00,830.26 306.50,830.77 307.00,831.02 307.50,830.45 308.00,830.69 308.50,830.54 309.00,830.60 309.50,830.55 310.00,830.49 310.50,830.76 311.00,830.81 311.50,830.62 312.00,830.96 312.50,830.88 313.00,830.80 313.50,830.49 314.00,831.08 314.50,830.96 315.00,830.20 315.50,830.43 316.00,830.58 316.50,830.90 317.00,830.97 317.50,830.64 318.00,830.77 318.50,830.87 319.00,830.44 319.50,830.86 320.00,830.67 320.50,830.79 321.00,830.74 321.50,830.50 322.00,830.54 322.50,830.78 323.00,830.80 323.50,830.72 324.00,831.02 324.50,830.72 325.00,830.53 325.50,830.71 326.00,830.74 326.50,830.74 327.00,831.01 327.50,830.86 328.00,830.97 328.50,830.86 329.00,830.68 329.50,830.93 330.00,830.64 330.50,830.74 331.00,830.45 331.50,830.69 332.00,830.58 332.50,830.72 333.00,831.03 333.50,831.14 334.00,830.84 334.50,830.59 335.00,830.77 335.50,830.63 336.00,830.44 336.50,830.54 337.00,830.49 337.50,830.40 338.00,830.83 338.50,830.40 339.00,830.40 339.50,830.65 340.00,830.33 340.50,830.22 341.00,830.28 341.50,830.56 342.00,830.52 342.50,830.50 343.00,830.32 343.50,830.21 344.00,830.60 344.50,830.07 345.00,830.33 345.50,830.07 346.00,830.27 346.50,830.31 347.00,830.60 347.50,829.69 348.00,830.61 348.50,830.11 349.00,830.36 349.50,830.46 350.00,830.10 350.50,830.24 351.00,830.36 351.50,830.21 352.00,830.07 352.50,830.26 353.00,830.23 353.50,829.87 354.00,830.48 354.50,830.22 355.00,829.63 355.50,829.97 356.00,830.52 356.50,830.48 357.00,830.18 357.50,829.74 358.00,830.05 358.50,830.32 359.00,830.16 359.50,829.99 360.00,829.89 360.50,830.23 361.00,829.99 361.50,830.09 362.00,830.12 362.50,830.36 363.00,830.03 363.50,830.04 364.00,829.58 364.50,830.20 365.00,830.14 365.50,829.93 366.00,829.42 366.50,829.79 367.00,829.92 367.50,830.35 368.00,830.01 368.50,830.04 369.00,830.04 369.50,830.14 370.00,829.59 370.50,829.64 371.00,829.55 371.50,829.74 372.00,829.71 372.50,829.80 373.00,829.54 373.50,829.78 374.00,829.56 374.50,830.20 375.00,829.60 375.50,830.27 376.00,830.06 376.50,829.42 377.00,829.89 377.50,829.80 378.00,829.31 378.50,829.78 379.00,829.61 379.50,829.69 380.00,829.42 380.50,829.61 381.00,829.73 381.50,829.61 382.00,829.54 382.50,829.65 383.00,829.49 383.50,829.79 384.00,829.17 384.50,830.08 385.00,829.78 385.50,829.88 386.00,829.98 386.50,829.54 387.00,830.33 387.50,829.60 388.00,829.96 388.50,829.94 389.00,830.18 389.50,829.90 390.00,829.61 390.50,830.01 391.00,829.41 391.50,829.92 392.00,829.88 392.50,830.34 393.00,829.95 393.50,829.93 394.00,829.87 394.50,829.87 395.00,829.95 395.50,830.22 396.00,829.81 396.50,830.07 397.00,829.81 397.50,830.11 398.00,830.19 398.50,829.90 399.00,830.06 399.50,830.22 400.00,830.38 400.50,830.44 401.00,830.22 401.50,830.04 402.00,829.91 402.50,830.46 403.00,830.61 403.50,830.39 404.00,830.67 404.50,830.24 405.00,830.27 405.50,830.71 406.00,830.16 406.50,830.53 407.00,830.49 407.50,830.45 408.00,830.81 408.50,830.25 409.00,830.36 409.50,830.00 410.00,830.25 410.50,830.38 411.00,830.41 411.50,830.45 412.00,830.55 412.50,830.33 413.00,830.03 413.50,830.49 414.00,830.54 414.50,830.18 415.00,830.25 415.50,830.81 416.00,830.63 416.50,830.63 417.00,830.53 417.50,830.40 418.00,830.23 418.50,830.46 419.00,830.27 419.50,830.19 420.00,830.26 420.50,830.22 421.00,830.40 421.50,829.96 422.00,830.68 422.50,829.86 423.00,829.93 423.50,830.16 424.00,829.68 424.50,829.65 425.00,829.64 425.50,828.83 426.00,829.21 426.50,828.91 427.00,828.84 427.50,828.76 428.00,828.52 428.50,828.42 429.00,828.11 429.50,827.74 430.00,827.23 430.50,827.26 431.00,826.66 431.50,826.80 432.00,827.18 432.50,827.16 433.00,826.87 433.50,827.29 434.00,827.89 434.50,828.09 435.00,828.46 435.50,828.08 436.00,828.41 436.50,828.84 437.00,828.85 437.50,829.20 438.00,829.33 438.50,829.50 439.00,829.47 439.50,829.68 440.00,829.77 440.50,829.65 441.00,829.36 441.50,829.92 442.00,829.68 442.50,829.72 443.00,829.64 443.50,829.22 444.00,829.68 444.50,829.37 445.00,829.20 445.50,829.71 446.00,829.31 446.50,829.39 447.00,829.46 447.50,829.55 448.00,828.72 448.50,828.88 449.00,829.11 449.50,828.72 450.00,828.05 450.50,828.70 451.00,828.61 451.50,828.62 452.00,828.37 452.50,828.10 453.00,828.11 453.50,827.92 454.00,827.67 454.50,827.70 455.00,827.58 455.50,827.13 456.00,827.44 456.50,827.26 457.00,827.12 457.50,826.21 458.00,826.74 458.50,826.59 459.00,826.32 459.50,826.61 460.00,826.11 460.50,826.71 461.00,826.53 461.50,826.36 462.00,826.84 462.50,826.71 463.00,826.77 463.50,826.51 464.00,827.03 464.50,827.36 465.00,827.42 465.50,827.03 466.00,827.77 466.50,827.95 467.00,827.92 467.50,827.79 468.00,827.67 468.50,827.93 469.00,828.13 469.50,828.43 470.00,828.61 470.50,828.43 471.00,828.33 471.50,828.69 472.00,828.58 472.50,829.25 473.00,828.76 473.50,829.21 474.00,829.35 474.50,829.01 475.00,829.50 475.50,829.30 476.00,829.20 476.50,829.20 477.00,829.47 477.50,829.72 478.00,829.09 478.50,829.67 479.00,829.52 479.50,829.41 480.00,829.57 480.50,829.61 481.00,829.61 481.50,829.82 482.00,829.44 482.50,830.09 483.00,829.85 483.50,829.52 484.00,829.22 484.50,829.63 485.00,829.53 485.50,829.77 486.00,829.74 486.50,829.98 487.00,829.50 487.50,829.66 488.00,829.35 488.50,829.31 489.00,829.68 489.50,829.25 490.00,829.19 490.50,829.07 491.00,829.15 491.50,829.15 492.00,828.93 492.50,828.65 493.00,828.95 493.50,828.67 494.00,828.77 494.50,828.92 495.00,828.97 495.50,828.46 496.00,829.42 496.50,829.31 497.00,829.65 497.50,829.87 498.00,829.19 498.50,829.36 499.00,829.62 499.50,829.85 500.00,829.60 500.50,829.71 501.00,830.09 501.50,829.71 502.00,830.00 502.50,830.25 503.00,829.99 503.50,830.26 504.00,830.10 504.50,829.81 505.00,830.07 505.50,830.18 506.00,830.17 506.50,830.28 507.00,830.38 507.50,830.38 508.00,830.38 508.50,830.26 509.00,830.33 509.50,830.31 510.00,830.28 510.50,830.73 511.00,830.01 511.50,830.50 512.00,830.10 512.50,830.34 513.00,830.66 513.50,830.43 514.00,830.81 514.50,830.30 515.00,830.45 515.50,830.39 516.00,830.54 516.50,830.47 517.00,830.47 517.50,830.57 518.00,830.81 518.50,830.59 519.00,830.56 519.50,830.47 520.00,830.37 520.50,830.20 521.00,830.28 521.50,830.51 522.00,830.07 522.50,830.63 523.00,830.38 523.50,830.26 524.00,830.34 524.50,830.59 525.00,830.52 525.50,830.49 526.00,830.81 526.50,830.93 527.00,830.12 527.50,830.59 528.00,830.22 528.50,830.07 529.00,830.25 529.50,830.58 530.00,830.28 530.50,830.23 531.00,830.63 531.50,830.42 532.00,830.28 532.50,830.68 533.00,830.38 533.50,830.09 534.00,830.00 534.50,830.12 535.00,830.24 535.50,830.39 536.00,830.36 536.50,830.18 537.00,829.88 537.50,830.33 538.00,830.12 538.50,829.83 539.00,829.77 539.50,830.06 540.00,830.05 540.50,830.11 541.00,829.61 541.50,830.24 542.00,829.35 542.50,829.66 543.00,829.86 543.50,829.67 544.00,829.08 544.50,829.24 545.00,829.14 545.50,828.74 546.00,828.00 546.50,828.15 547.00,826.95 547.50,826.88 548.00,826.33 548.30,826.41 548.50,826.44 549.00,826.83 549.50,826.81 550.00,827.55 550.50,828.18 551.00,828.23 551.50,828.58 552.00,828.74 552.50,828.61 553.00,828.78 553.50,828.93 554.00,829.05 554.50,829.40 555.00,829.30 555.50,828.80 556.00,828.75 556.50,828.56 557.00,828.18 557.50,828.89 558.00,828.59 558.50,827.90 559.00,828.17 559.50,828.50 560.00,827.86 560.50,827.61 561.00,827.25 561.50,826.68 562.00,826.19 562.50,825.79 563.00,825.44 563.50,824.68 564.00,824.06 564.50,823.29 565.00,821.75 565.50,820.12 566.00,817.53 566.50,814.00 567.00,809.90 567.50,802.51 568.00,792.73 568.50,779.39 569.00,763.59 569.50,748.86 570.00,738.26 570.20,737.76 570.50,739.83 571.00,751.48 571.50,767.39 572.00,782.53 572.50,794.27 573.00,804.25 573.50,810.18 574.00,815.28 574.50,818.13 575.00,820.16 575.50,821.89 576.00,822.95 576.50,824.22 577.00,825.23 577.50,825.87 578.00,826.26 578.50,826.97 579.00,827.25 579.50,827.97 580.00,827.91 580.50,827.93 581.00,828.23 581.50,828.33 582.00,828.62 582.50,828.82 583.00,829.15 583.50,829.31 584.00,829.26 584.50,829.45 585.00,829.29 585.50,829.42 586.00,829.08 586.50,829.53 587.00,829.66 587.50,830.41 588.00,829.59 588.50,829.96 589.00,829.93 589.50,829.69 590.00,830.15 590.50,830.14 591.00,829.84 591.50,829.69 592.00,830.23 592.50,829.95 593.00,830.45 593.50,830.27 594.00,830.48 594.50,830.31 595.00,830.75 595.50,830.59 596.00,830.79 596.50,830.50 597.00,830.26 597.50,830.19 598.00,830.42 598.50,830.61 599.00,830.42 599.50,831.13 600.00,830.58 600.50,830.71 601.00,830.64 601.50,830.36 602.00,830.89 602.50,830.81 603.00,830.87 603.50,830.48 604.00,830.70 604.50,830.70 605.00,830.98 605.50,830.42 606.00,830.89 606.50,831.03 607.00,830.66 607.50,830.59 608.00,831.07 608.50,830.84 609.00,831.05 609.50,830.97 610.00,831.05 610.50,830.78 611.00,830.36 611.50,830.99 612.00,830.72 612.50,831.03 613.00,830.78 613.50,831.28 614.00,830.88 614.50,831.13 615.00,831.21 615.50,830.96 616.00,831.06 616.50,831.00 617.00,830.81 617.50,831.36 618.00,830.84 618.50,830.70 619.00,830.95 619.50,831.11 620.00,831.11 620.50,831.03 621.00,831.01 621.50,830.65 622.00,831.28 622.50,831.54 623.00,831.00 623.50,830.77 624.00,831.36 624.50,831.16 625.00,830.31 625.50,831.05 626.00,830.91 626.50,830.98 627.00,831.71 627.50,831.49 628.00,831.24 628.50,831.30 629.00,831.66 629.50,831.07 630.00,831.49 630.50,831.19 631.00,831.54 631.50,831.41 632.00,831.20 632.50,831.62 633.00,831.51 633.50,831.82 634.00,831.32 634.50,831.45 635.00,831.27 635.50,831.71 636.00,831.27 636.50,831.45 637.00,831.76 637.50,831.59 638.00,831.55 638.50,831.55 639.00,831.57 639.50,831.65 640.00,831.44 640.50,831.06 641.00,831.82 641.50,831.27 642.00,831.93 642.50,831.58 643.00,832.24 643.50,831.78 644.00,831.61 644.50,831.72 645.00,831.20 645.50,831.55 646.00,831.43 646.50,831.51 647.00,831.04 647.50,831.00 648.00,831.66 648.50,831.50 649.00,831.38 649.50,831.46 650.00,831.33 650.50,831.36 651.00,831.62 651.50,831.40 652.00,831.60 652.50,831.27 653.00,831.01 653.50,831.26 654.00,831.36 654.50,831.13 655.00,831.28 655.50,831.23 656.00,831.54 656.50,831.50 657.00,831.54 657.50,831.09 658.00,831.31 658.50,831.50 659.00,831.21 659.50,831.12 660.00,830.93 660.50,831.25 661.00,831.05 661.50,831.19 662.00,830.87 662.50,831.31 663.00,830.77 663.50,830.42 664.00,830.66 664.50,830.63 665.00,830.70 665.50,830.18 666.00,830.03 666.50,829.94 667.00,829.74 667.50,829.14 668.00,829.55 668.50,829.38 669.00,828.55 669.50,828.02 670.00,827.56 670.50,826.50 671.00,825.60 671.50,823.52 672.00,821.45 672.50,817.99 673.00,814.22 673.50,809.89 674.00,805.36 674.50,801.51 675.00,798.45 675.50,797.09 676.00,798.32 676.50,800.94 677.00,805.97 677.50,810.01 678.00,814.90 678.50,818.89 679.00,821.40 679.50,823.90 680.00,825.66 680.50,826.50 681.00,827.46 681.50,828.22 682.00,828.90 682.50,829.44 683.00,829.58 683.50,830.05 684.00,829.90 684.50,829.88 685.00,830.38 685.50,830.50 686.00,830.32 686.50,831.00 687.00,830.65 687.50,830.80 688.00,831.10 688.50,830.89 689.00,831.35 689.50,831.36 690.00,831.44 690.50,831.39 691.00,831.34 691.50,831.33 692.00,831.61 692.50,831.90 693.00,831.81 693.50,831.75 694.00,831.93 694.50,832.04 695.00,831.48 695.50,831.79 696.00,832.10 696.50,831.71 697.00,831.77 697.50,832.04 698.00,831.88 698.50,832.22 699.00,831.90 699.50,832.12 700.00,832.58 700.50,832.29 701.00,831.73 701.50,831.82 702.00,831.84 702.50,832.07 703.00,831.78 703.50,832.23 704.00,832.51 704.50,832.48 705.00,831.97 705.50,832.08 706.00,832.09 706.50,831.98 707.00,832.56 707.50,832.03 708.00,831.94 708.50,832.28 709.00,832.28 709.50,832.56 710.00,832.57 710.50,832.19 711.00,831.76 711.50,832.40 712.00,832.43 712.50,832.66 713.00,831.91 713.50,832.01 714.00,832.63 714.50,832.65 715.00,832.58 715.50,832.29 716.00,832.59 716.50,832.18 717.00,832.02 717.50,832.30 718.00,832.34 718.50,832.50 719.00,832.57 719.50,831.93 720.00,832.40 720.50,832.45 721.00,832.06 721.50,832.29 722.00,832.36 722.50,832.45 723.00,832.16 723.50,832.23 724.00,832.12 724.50,832.45 725.00,832.30 725.50,832.24 726.00,832.52 726.50,832.35 727.00,832.12 727.50,832.65 728.00,832.61 728.50,832.50 729.00,832.17 729.50,832.65 730.00,832.28 730.50,831.99 731.00,832.39 731.50,832.82 732.00,832.32 732.50,832.56 733.00,832.73 733.50,832.47 734.00,832.36 734.50,832.44 735.00,832.57 735.50,832.33 736.00,832.52 736.50,832.57 737.00,832.37 737.50,832.61 738.00,832.58 738.50,832.38 739.00,832.42 739.50,832.49 740.00,832.43 740.50,832.42 741.00,832.24 741.50,832.50 742.00,832.64 742.50,832.62 743.00,832.30 743.50,832.61 744.00,832.62 744.50,832.28 745.00,832.60 745.50,832.45 746.00,832.41 746.50,832.54 747.00,832.45 747.50,832.00 748.00,832.54 748.50,832.25 749.00,832.48 749.50,832.65 750.00,832.45 750.50,832.40 751.00,832.53 751.50,832.61 752.00,832.32 752.50,832.36 753.00,832.61 753.50,832.86 754.00,832.50 754.50,832.70 755.00,832.34 755.50,832.50 756.00,832.52 756.50,832.22 757.00,832.50 757.50,832.46 758.00,831.94 758.50,832.47 759.00,832.56 759.50,832.54 760.00,832.56 760.50,832.21 761.00,832.27 761.50,832.36 762.00,832.18 762.50,832.24 763.00,832.58 763.50,832.09 764.00,832.18 764.50,832.63 765.00,832.17 765.50,831.95 766.00,832.19 766.50,832.14 767.00,832.10 767.50,831.68 768.00,832.07 768.50,832.05 769.00,832.38 769.50,832.04 770.00,831.76 770.50,831.89 771.00,831.92 771.50,831.70 772.00,831.68 772.50,831.94 773.00,831.70 773.50,831.66 774.00,831.28 774.50,831.53 775.00,830.96 775.50,831.59 776.00,831.16 776.50,831.33 777.00,831.43 777.50,830.82 778.00,831.24 778.50,830.97 779.00,831.10 779.50,830.70 780.00,830.56 780.50,830.93 781.00,830.68 781.50,830.55 782.00,830.25 782.50,830.75 783.00,830.36 783.50,830.37 784.00,830.26 784.50,830.41 785.00,830.54 785.50,830.41 786.00,830.42 786.50,830.35 787.00,830.81 787.50,830.87 788.00,830.48 788.50,830.37 789.00,830.64 789.50,830.26 790.00,830.68 790.50,830.70 791.00,830.70 791.50,831.02 792.00,831.08 792.50,830.79 793.00,830.62 793.50,830.92 794.00,830.95 794.50,830.44 795.00,830.54 795.50,830.64 796.00,830.33 796.50,830.44 797.00,831.03 797.50,830.39 798.00,830.84 798.50,830.47 799.00,830.85 799.50,830.69 800.00,830.80 800.50,830.29 801.00,830.63 801.50,830.43 802.00,830.70 802.50,830.67 803.00,830.53 803.50,830.45 804.00,830.45 804.50,830.49 805.00,830.30 805.50,830.33 806.00,830.30 806.50,830.22 807.00,830.68 807.50,830.18 808.00,830.76 808.50,830.64 809.00,830.12 809.50,830.10 810.00,830.50 810.50,830.27 811.00,830.53 811.50,830.71 812.00,830.58 812.50,830.45 813.00,830.46 813.50,830.81 814.00,830.40 814.50,830.84 815.00,830.89 815.50,830.35 816.00,830.47 816.50,830.75 817.00,830.20 817.50,830.41 818.00,830.49 818.50,829.99 819.00,830.23 819.50,830.11 820.00,829.89 820.50,830.24 821.00,829.77 821.50,830.18 822.00,829.71 822.50,829.26 823.00,829.33 823.50,828.95 824.00,829.15 824.50,828.99 825.00,828.50 825.50,828.60 826.00,828.78 826.50,828.73 827.00,828.59 827.50,829.15 828.00,829.36 828.50,828.91 829.00,829.72 829.50,829.14 830.00,829.71 830.50,829.75 831.00,829.91 831.50,830.20 832.00,830.02 832.50,830.36 833.00,830.83 833.50,830.65 834.00,830.95 834.50,830.88 835.00,830.41 835.50,831.19 836.00,831.04 836.50,831.05 837.00,830.86 837.50,830.87 838.00,830.79 838.50,831.01 839.00,831.09 839.50,831.06 840.00,831.08 840.50,830.71 841.00,830.99 841.50,830.99 842.00,831.24 842.50,831.09 843.00,831.10 843.50,831.22 844.00,831.10 844.50,831.15 845.00,831.45 845.50,831.17 846.00,831.00 846.50,831.31 847.00,831.34 847.50,831.29 848.00,830.86 848.50,831.32 849.00,831.11 849.50,831.10 850.00,831.07 850.50,831.12 851.00,831.09 851.50,831.27 852.00,830.97 852.50,830.85 853.00,830.96 853.50,830.75 854.00,830.95 854.50,830.70 855.00,830.76 855.50,830.42 856.00,830.67 856.50,830.51 857.00,830.11 857.50,830.12 858.00,830.12 858.50,829.72 859.00,829.67 859.50,829.89 860.00,829.78 860.50,829.84 861.00,829.17 861.50,829.25 862.00,828.78 862.50,829.47 863.00,828.72 863.50,828.86 864.00,829.24 864.50,829.07 865.00,828.54 865.50,829.18 866.00,828.80 866.50,828.50 867.00,828.81 867.50,828.96 868.00,829.03 868.50,828.54 869.00,829.49 869.50,828.87 870.00,829.30 870.50,829.78 871.00,829.69 871.50,829.73 872.00,829.74 872.50,830.13 873.00,830.43 873.50,830.14 874.00,830.47 874.50,830.41 875.00,830.51 875.50,830.26 876.00,830.85 876.50,831.09 877.00,830.95 877.50,831.28 878.00,831.18 878.50,831.47 879.00,831.31 879.50,831.27 880.00,831.30 880.50,831.49 881.00,831.58 881.50,831.41 882.00,831.59 882.50,831.39 883.00,831.43 883.50,831.89 884.00,831.87 884.50,832.02 885.00,831.90 885.50,831.96 886.00,832.33 886.50,831.79 887.00,832.06 887.50,832.36 888.00,832.49 888.50,832.21 889.00,832.09 889.50,831.91 890.00,832.13 890.50,832.21 891.00,832.21 891.50,832.33 892.00,832.37 892.50,832.17 893.00,832.10 893.50,832.24 894.00,832.41 894.50,832.69 895.00,832.01 895.50,832.60 896.00,832.33 896.50,832.64 897.00,832.82 897.50,832.54 898.00,832.21 898.50,832.38 899.00,832.56 899.50,832.43 900.00,832.50 900.50,832.35 901.00,832.47 901.50,832.39 902.00,832.71 902.50,832.60 903.00,832.69 903.50,832.20 904.00,832.45 904.50,832.39 905.00,832.46 905.50,832.37 906.00,832.41 906.50,832.90 907.00,832.51 907.50,832.31 908.00,832.51 908.50,833.05 909.00,832.73 909.50,832.38 910.00,832.53 910.50,832.57 911.00,832.59 911.50,832.20 912.00,832.39 912.50,832.56 913.00,832.23 913.50,832.56 914.00,832.61 914.50,832.76 915.00,832.82 915.50,832.56 916.00,832.65 916.50,832.75 917.00,832.82 917.50,832.62 918.00,832.45 918.50,832.73 919.00,832.79 919.50,832.64 920.00,832.73 920.50,832.95 921.00,832.51 921.50,832.47 922.00,832.39 922.50,832.69 923.00,832.82 923.50,832.51 924.00,833.00 924.50,832.50 925.00,832.68 925.50,832.60 926.00,832.91 926.50,832.49 927.00,832.97 927.50,832.59 928.00,832.34 928.50,832.50 929.00,832.59 929.50,832.98 930.00,832.52 930.50,832.62 931.00,833.06 931.50,832.66 932.00,832.49 932.50,832.47 933.00,832.30 933.50,832.70 934.00,832.88 934.50,832.55 935.00,832.40 935.50,832.68 936.00,832.62 936.50,832.59 937.00,832.71 937.50,832.62 938.00,832.54 938.50,832.83 939.00,832.23 939.50,832.38 940.00,832.56 940.50,832.33 941.00,832.93 941.50,832.15 942.00,832.76 942.50,832.73 943.00,832.68 943.50,832.70 944.00,832.49 944.50,832.46 945.00,832.91 945.50,832.58 946.00,832.30 946.50,832.35 947.00,832.28 947.50,832.66 948.00,832.85 948.50,832.54 949.00,832.63 949.50,832.50 950.00,832.79 950.50,832.79 951.00,832.80 951.50,832.98 952.00,832.35 952.50,832.78 953.00,832.28 953.50,832.76 954.00,832.78 954.50,832.76 955.00,832.78 955.50,832.58 956.00,832.48 956.50,832.77 957.00,832.48 957.50,832.76 958.00,832.43 958.50,832.68 959.00,832.67 959.50,832.43 960.00,832.54 960.50,832.80 961.00,832.61 961.50,832.72 962.00,832.49 962.50,832.63 963.00,832.30 963.50,832.44 964.00,832.87 964.50,832.72 965.00,832.61 965.50,832.63 966.00,832.32 966.50,832.69 967.00,832.34 967.50,832.44 968.00,832.74 968.50,832.44 969.00,832.49 969.50,832.57 970.00,832.61 970.50,832.87 971.00,832.23 971.50,832.50 972.00,832.71 972.50,832.48 973.00,832.50 973.50,832.41 974.00,832.51 974.50,832.71 975.00,832.84 975.50,832.65 976.00,832.86 976.50,832.59 977.00,832.23 977.50,832.73 978.00,832.15 978.50,832.56 979.00,832.57 979.50,832.33 980.00,832.52 980.50,832.45 981.00,832.59 981.50,832.50 982.00,832.69 982.50,832.48 983.00,832.69 983.50,832.56 984.00,832.61 984.50,832.58 985.00,832.46 985.50,832.79 986.00,832.67 986.50,832.08 987.00,832.30 987.50,832.90 988.00,832.49 988.50,833.13 989.00,832.63 989.50,832.64 990.00,832.44 990.50,832.49 991.00,832.57 991.50,832.73 992.00,832.55 992.50,832.52 993.00,832.33 993.50,832.43 994.00,832.44 994.50,832.50 995.00,832.37 995.50,832.29 996.00,832.45 996.50,832.00 997.00,832.19 997.50,832.33 998.00,832.58 998.50,832.35 999.00,832.26 999.50,832.63 1000.00,832.46 1000.50,832.77 1001.00,832.44 1001.50,832.34 1002.00,832.41 1002.50,832.86 1003.00,832.81 1003.50,832.53 1004.00,832.71 1004.50,832.21 1005.00,832.76 1005.50,832.57 1006.00,832.48 1006.50,832.51 1007.00,832.55 1007.50,832.41 1008.00,832.42 1008.50,832.25 1009.00,832.82 1009.50,832.31 1010.00,832.46 1010.50,832.70 1011.00,832.73 1011.50,832.77 1012.00,832.35 1012.50,832.37 1013.00,832.44 1013.50,832.07 1014.00,832.62 1014.50,832.09 1015.00,832.38 1015.50,832.58 1016.00,832.55 1016.50,832.27 1017.00,832.52 1017.50,832.53 1018.00,831.93 1018.50,832.19 1019.00,832.33 1019.50,832.23 1020.00,832.03 1020.50,831.98 1021.00,832.38 1021.50,831.70 1022.00,831.82 1022.50,831.10 1023.00,831.10 1023.50,830.67 1024.00,829.58 1024.50,828.44 1025.00,827.49 1025.50,825.26 1026.00,823.50 1026.50,821.09 1027.00,820.51 1027.20,819.55 1027.50,819.85 1028.00,820.82 1028.50,822.30 1029.00,823.63 1029.50,824.85 1030.00,825.50 1030.50,825.81 1031.00,826.05 1031.50,826.67 1032.00,827.18 1032.50,828.62 1033.00,829.46 1033.50,830.48 1034.00,830.74 1034.50,831.22 1035.00,831.55 1035.50,832.06 1036.00,832.13 1036.50,832.00 1037.00,831.94 1037.50,832.26 1038.00,832.31 1038.50,832.38 1039.00,832.55 1039.50,832.72 1040.00,832.77 1040.50,832.50 1041.00,832.51 1041.50,833.01 1042.00,832.66 1042.50,832.88 1043.00,832.79 1043.50,832.85 1044.00,833.12 1044.50,832.75 1045.00,833.05 1045.50,832.94 1046.00,832.81 1046.50,832.76 1047.00,832.75 1047.50,833.11 1048.00,833.09 1048.50,832.71 1049.00,832.98 1049.50,832.53 1050.00,832.92 1050.50,833.34 1051.00,832.67 1051.50,832.99 1052.00,832.80 1052.50,832.95 1053.00,832.71 1053.50,832.97 1054.00,832.44 1054.50,832.87 1055.00,832.85 1055.50,832.89 1056.00,833.32 1056.50,832.64 1057.00,832.72 1057.50,832.56 1058.00,832.92 1058.50,832.78 1059.00,832.48 1059.50,832.87 1060.00,832.66 1060.50,832.82 1061.00,832.58 1061.50,832.34 1062.00,832.06 1062.50,831.71 1063.00,832.01 1063.50,832.40 1064.00,832.20 1064.50,832.17 1065.00,832.52 1065.50,832.73 1066.00,833.25 1066.50,832.54 1067.00,832.74 1067.50,832.64 1068.00,832.77 1068.50,833.15 1069.00,832.97 1069.50,832.72 1070.00,833.33 1070.50,833.45 1071.00,833.26 1071.50,832.90 1072.00,832.90 1072.50,833.41 1073.00,832.94 1073.50,833.05 1074.00,832.87 1074.50,833.59 1075.00,833.06 1075.50,833.17 1076.00,833.06 1076.50,833.08 1077.00,832.99 1077.50,833.48 1078.00,833.11 1078.50,833.56 1079.00,832.99 1079.50,833.37 1080.00,833.48 1080.50,833.03" fill="none" stroke="#000" stroke-width="1.5" stroke-linejoin="round"/>
<line x1="204.3" y1="107.8" x2="204.3" y2="828.2" stroke="#45a345" stroke-width="1.5" stroke-dasharray="5.4 4.7"/>
<line x1="380.7" y1="107.8" x2="380.7" y2="828.6" stroke="#45a345" stroke-width="1.5" stroke-dasharray="5.4 4.7"/>
<line x1="460.0" y1="107.8" x2="460.0" y2="828.9" stroke="#45a345" stroke-width="1.5" stroke-dasharray="5.4 4.7"/>
<line x1="785.7" y1="107.8" x2="785.7" y2="830.3" stroke="#45a345" stroke-width="1.5" stroke-dasharray="5.4 4.7"/>
<line x1="868.0" y1="107.8" x2="868.0" y2="830.7" stroke="#45a345" stroke-width="1.5" stroke-dasharray="5.4 4.7"/>
<line x1="548.4" y1="107.8" x2="548.4" y2="829.3" stroke="#333333" stroke-width="1.5" stroke-dasharray="5.4 4.7"/>
<line x1="825.6" y1="107.8" x2="825.6" y2="829.8" stroke="#333333" stroke-width="1.5" stroke-dasharray="5.4 4.7"/>
<line x1="1063.1" y1="107.8" x2="1063.1" y2="832.1" stroke="#333333" stroke-width="1.5" stroke-dasharray="5.4 4.7"/>
<line x1="571.5" y1="107.8" x2="571.5" y2="829.5" stroke="#4444ff" stroke-width="1.5" stroke-dasharray="5.4 4.7"/>
<line x1="676.5" y1="107.8" x2="676.5" y2="830.8" stroke="#4444ff" stroke-width="1.5" stroke-dasharray="5.4 4.7"/>
<line x1="1027.6" y1="107.8" x2="1027.6" y2="831.8" stroke="#4444ff" stroke-width="1.5" stroke-dasharray="5.4 4.7"/>
<rect x="75.35" y="108" width="1005.3" height="743" fill="none" stroke="#000" stroke-width="2.8" stroke-linejoin="round"/>
<line x1="75.35" y1="851" x2="75.35" y2="858.5" stroke="#000" stroke-width="2.7" stroke-linecap="round"/>
<line x1="218.95" y1="851" x2="218.95" y2="865.5" stroke="#000" stroke-width="2.7" stroke-linecap="round"/>
<line x1="362.55" y1="851" x2="362.55" y2="858.5" stroke="#000" stroke-width="2.7" stroke-linecap="round"/>
<line x1="506.15" y1="851" x2="506.15" y2="865.5" stroke="#000" stroke-width="2.7" stroke-linecap="round"/>
<line x1="649.75" y1="851" x2="649.75" y2="858.5" stroke="#000" stroke-width="2.7" stroke-linecap="round"/>
<line x1="793.35" y1="851" x2="793.35" y2="865.5" stroke="#000" stroke-width="2.7" stroke-linecap="round"/>
<line x1="936.95" y1="851" x2="936.95" y2="858.5" stroke="#000" stroke-width="2.7" stroke-linecap="round"/>
<line x1="1080.55" y1="851" x2="1080.55" y2="865.5" stroke="#000" stroke-width="2.7" stroke-linecap="round"/>
<text x="218.95" y="898.6" text-anchor="middle" font-family="'Liberation Sans', sans-serif" font-size="32" transform="translate(218.35,0) scale(0.955,1) translate(-218.95,0)">20</text>
<text x="506.15" y="898.6" text-anchor="middle" font-family="'Liberation Sans', sans-serif" font-size="32" transform="translate(505.55,0) scale(0.955,1) translate(-506.15,0)">40</text>
<text x="793.35" y="898.6" text-anchor="middle" font-family="'Liberation Sans', sans-serif" font-size="32" transform="translate(792.75,0) scale(0.955,1) translate(-793.35,0)">60</text>
<text x="1080.55" y="898.6" text-anchor="middle" font-family="'Liberation Sans', sans-serif" font-size="32" transform="translate(1079.95,0) scale(0.955,1) translate(-1080.55,0)">80</text>
<rect x="196.20" y="75.5" width="17.8" height="17.6" rx="1" fill="#008000" stroke="#111" stroke-width="1.2"/>
<rect x="371.60" y="75.5" width="17.8" height="17.6" rx="1" fill="#008000" stroke="#111" stroke-width="1.2"/>
<rect x="453.60" y="75.5" width="17.8" height="17.6" rx="1" fill="#008000" stroke="#111" stroke-width="1.2"/>
<rect x="535.30" y="75.5" width="17.8" height="17.6" rx="1" fill="#000000" stroke="#111" stroke-width="1.2"/>
<rect x="573.40" y="75.5" width="17.8" height="17.6" rx="1" fill="#0000ff" stroke="#111" stroke-width="1.2"/>
<rect x="674.50" y="75.5" width="17.8" height="17.6" rx="1" fill="#0000ff" stroke="#111" stroke-width="1.2"/>
<rect x="783.60" y="75.5" width="17.8" height="17.6" rx="1" fill="#008000" stroke="#111" stroke-width="1.2"/>
<rect x="824.60" y="75.5" width="17.8" height="17.6" rx="1" fill="#000000" stroke="#111" stroke-width="1.2"/>
<rect x="868.10" y="75.5" width="17.8" height="17.6" rx="1" fill="#008000" stroke="#111" stroke-width="1.2"/>
<rect x="1025.60" y="75.5" width="17.8" height="17.6" rx="1" fill="#0000ff" stroke="#111" stroke-width="1.2"/>
<rect x="1059.10" y="75.5" width="17.8" height="17.6" rx="1" fill="#000000" stroke="#111" stroke-width="1.2"/>
<rect x="232.6" y="11.6" width="17.8" height="17.8" fill="#000000" stroke="#111" stroke-width="1.2"/>
<text x="257.8" y="28.9" font-family="'Liberation Sans', sans-serif" font-size="27.5" textLength="109.0" lengthAdjust="spacingAndGlyphs">periclase</text>
<rect x="433.6" y="11.6" width="17.8" height="17.8" fill="#0000ff" stroke="#111" stroke-width="1.2"/>
<text x="469.2" y="28.9" font-family="'Liberation Sans', sans-serif" font-size="27.5" textLength="72.0" lengthAdjust="spacingAndGlyphs">nickel</text>
<rect x="702.0" y="11.6" width="17.8" height="17.8" fill="#008000" stroke="#111" stroke-width="1.2"/>
<text x="742.5" y="28.9" font-family="'Liberation Sans', sans-serif" font-size="27.5" textLength="74.5" lengthAdjust="spacingAndGlyphs">spinel</text>
<text x="81.5" y="308.6" font-family="'Liberation Sans', sans-serif" font-size="32.4" textLength="165.0" lengthAdjust="spacingAndGlyphs">Ni-CP-V4.0</text>
<text x="81.5" y="434.8" font-family="'Liberation Sans', sans-serif" font-size="32.4" textLength="165.0" lengthAdjust="spacingAndGlyphs">Ni-CP-V2.0</text>
<text x="81.5" y="693" font-family="'Liberation Sans', sans-serif" font-size="32.4" textLength="165.0" lengthAdjust="spacingAndGlyphs">Ni-CP-V1.0</text>
<text x="81.5" y="807.2" font-family="'Liberation Sans', sans-serif" font-size="32.4" textLength="165.0" lengthAdjust="spacingAndGlyphs">Ni-CP-V0.0</text>
<text x="875.0" y="262.8" font-family="'Liberation Sans', sans-serif" font-size="32" font-weight="700" textLength="18.2" lengthAdjust="spacingAndGlyphs">d</text>
<text x="893.6" y="270.1" font-family="'Liberation Sans', sans-serif" font-size="18" font-weight="700" textLength="20.8" lengthAdjust="spacingAndGlyphs">Ni</text>
<text x="914.5" y="262.8" font-family="'Liberation Sans', sans-serif" font-size="32" font-weight="700" textLength="105.0" lengthAdjust="spacingAndGlyphs">=15 nm</text>
<text x="875.0" y="409" font-family="'Liberation Sans', sans-serif" font-size="32" font-weight="700" textLength="18.2" lengthAdjust="spacingAndGlyphs">d</text>
<text x="893.6" y="416.3" font-family="'Liberation Sans', sans-serif" font-size="18" font-weight="700" textLength="20.8" lengthAdjust="spacingAndGlyphs">Ni</text>
<text x="914.5" y="409" font-family="'Liberation Sans', sans-serif" font-size="32" font-weight="700" textLength="88.5" lengthAdjust="spacingAndGlyphs">=4 nm</text>
<text x="875.0" y="619.6" font-family="'Liberation Sans', sans-serif" font-size="32" font-weight="700" textLength="18.2" lengthAdjust="spacingAndGlyphs">d</text>
<text x="893.6" y="626.9" font-family="'Liberation Sans', sans-serif" font-size="18" font-weight="700" textLength="20.8" lengthAdjust="spacingAndGlyphs">Ni</text>
<text x="914.5" y="619.6" font-family="'Liberation Sans', sans-serif" font-size="32" font-weight="700" textLength="105.0" lengthAdjust="spacingAndGlyphs">=16 nm</text>
<text x="875.0" y="795.1" font-family="'Liberation Sans', sans-serif" font-size="32" font-weight="700" textLength="18.2" lengthAdjust="spacingAndGlyphs">d</text>
<text x="893.6" y="802.4" font-family="'Liberation Sans', sans-serif" font-size="18" font-weight="700" textLength="20.8" lengthAdjust="spacingAndGlyphs">Ni</text>
<text x="914.5" y="795.1" font-family="'Liberation Sans', sans-serif" font-size="32" font-weight="700" textLength="105.0" lengthAdjust="spacingAndGlyphs">=17 nm</text>
<text x="510.5" y="964.5" font-family="'Liberation Sans', sans-serif" font-size="36">2</text>
<text x="532.5" y="964.5" font-family="'Liberation Serif', serif" font-size="40" textLength="19.0" lengthAdjust="spacingAndGlyphs">θ</text>
<text x="562.0" y="964.5" font-family="'Liberation Sans', sans-serif" font-size="36" textLength="82.0" lengthAdjust="spacingAndGlyphs">[deg]</text>
<text transform="translate(36.3,615.5) rotate(-90)" x="0" y="0" font-family="'Liberation Sans', sans-serif" font-size="36" textLength="226.0" lengthAdjust="spacingAndGlyphs">Intensity [a.u.]</text>
</svg>
</body></html>
